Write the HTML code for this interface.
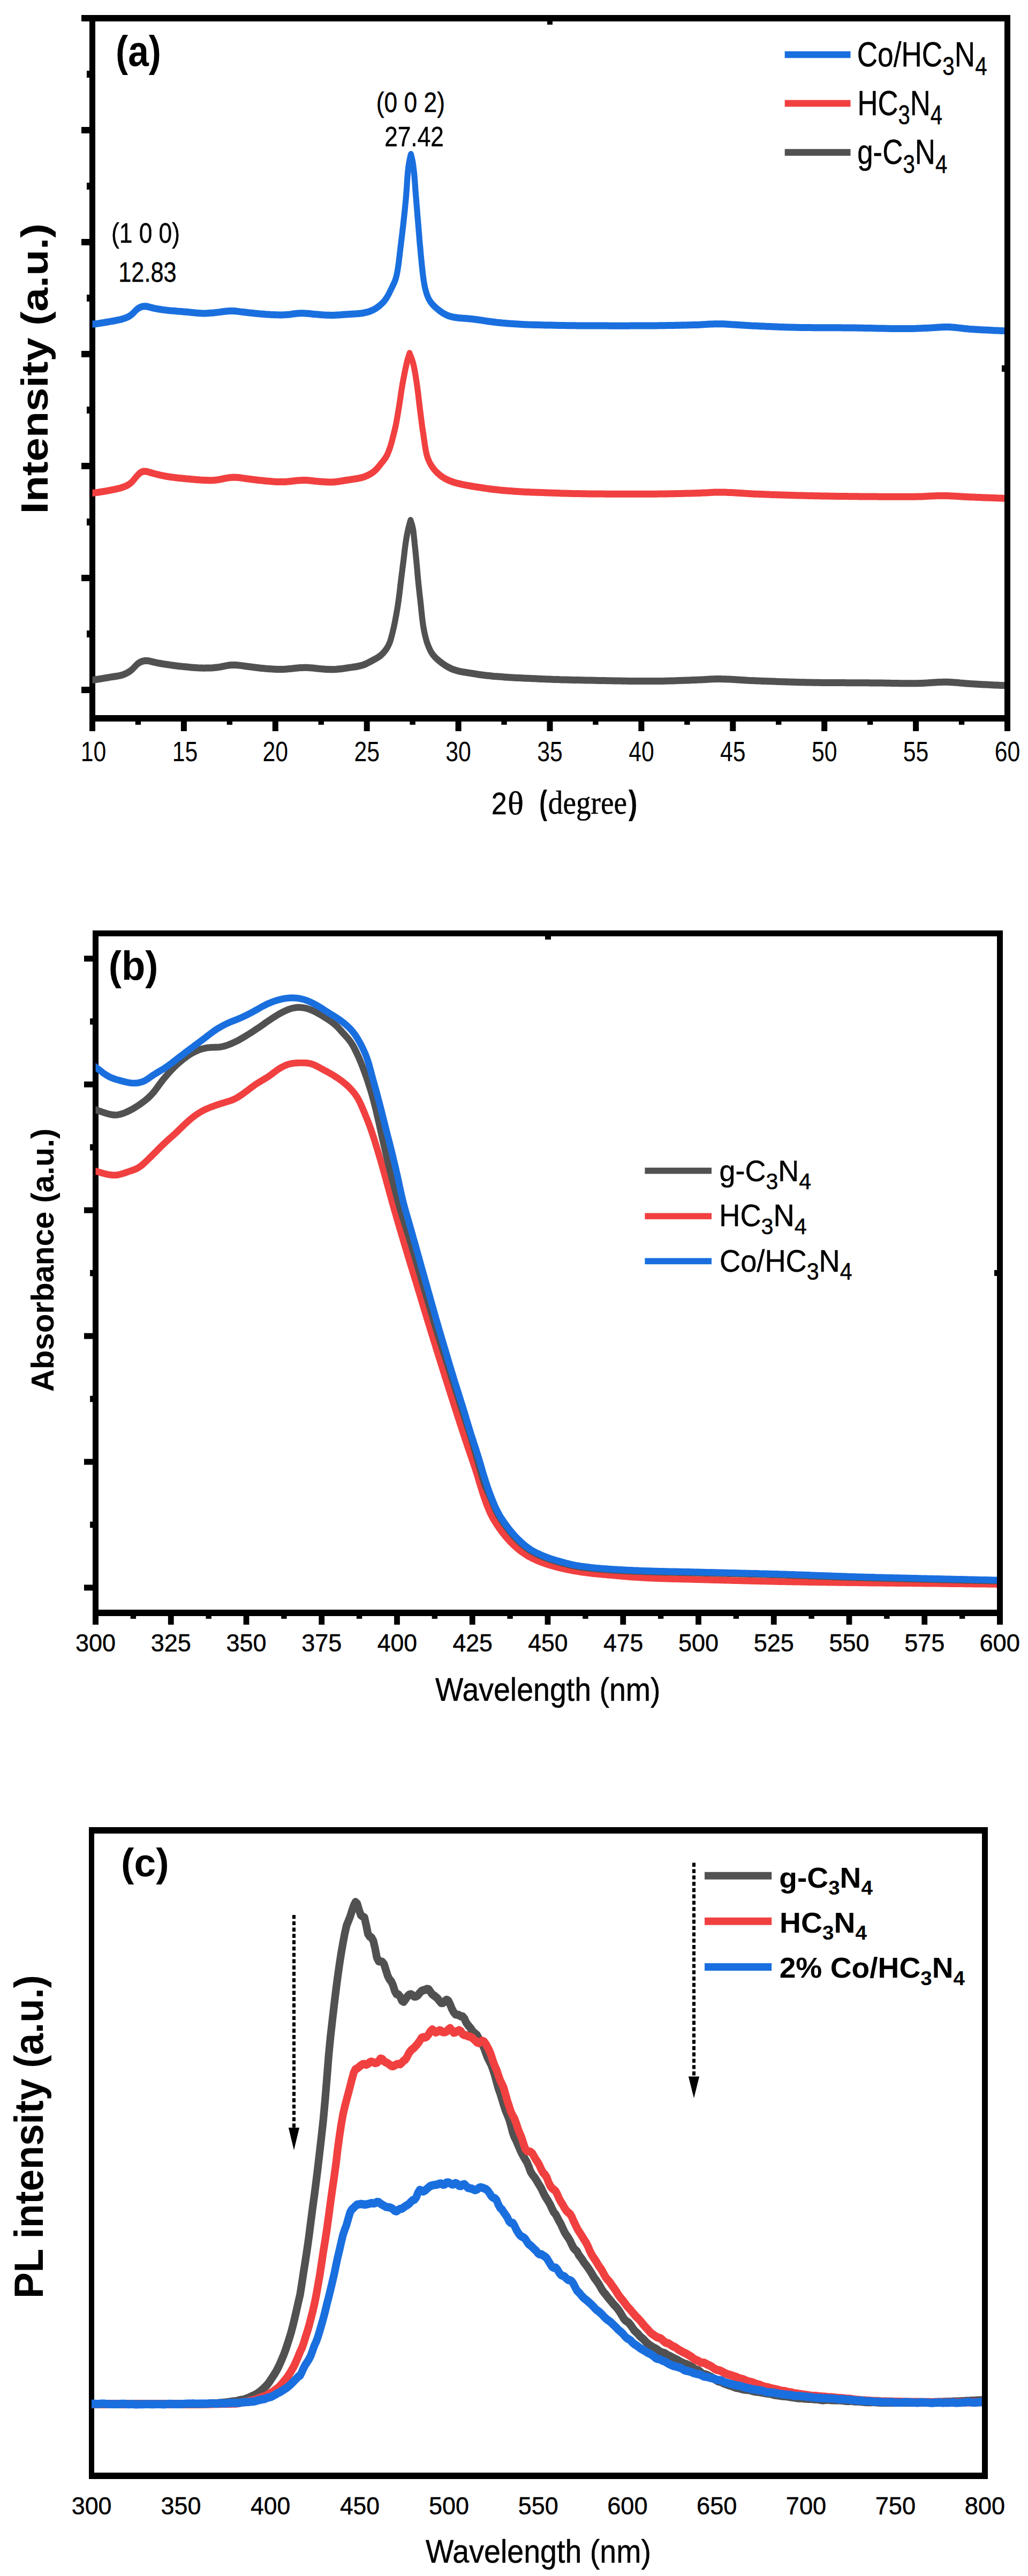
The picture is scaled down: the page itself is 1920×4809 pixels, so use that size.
<!DOCTYPE html>
<html lang="en"><head><meta charset="utf-8"><title>Figure</title>
<style>html,body{margin:0;padding:0;background:#fff}svg{display:block}text{white-space:pre}</style></head>
<body><svg width="1920" height="4809" viewBox="0 0 1920 4809">
<rect width="1920" height="4809" fill="#fff"/>
<g id="panel-a">
<clipPath id="clipA"><rect x="172.5" y="34" width="1703.5" height="1307"/></clipPath>
<rect x="152" y="28" width="1735" height="12" fill="#000"/>
<rect x="167" y="28" width="11" height="1337" fill="#000"/>
<rect x="1876" y="28" width="11" height="1337" fill="#000"/>
<rect x="167" y="1335" width="1720" height="12" fill="#000"/>
<rect x="152" y="237" width="18" height="12" fill="#000"/>
<rect x="162" y="132" width="8" height="13" fill="#000"/>
<rect x="152" y="446" width="18" height="12" fill="#000"/>
<rect x="162" y="341" width="8" height="13" fill="#000"/>
<rect x="152" y="655" width="18" height="12" fill="#000"/>
<rect x="162" y="550" width="8" height="13" fill="#000"/>
<rect x="152" y="864" width="18" height="12" fill="#000"/>
<rect x="162" y="759" width="8" height="13" fill="#000"/>
<rect x="152" y="1073" width="18" height="12" fill="#000"/>
<rect x="162" y="968" width="8" height="13" fill="#000"/>
<rect x="152" y="1282" width="18" height="12" fill="#000"/>
<rect x="162" y="1177" width="8" height="13" fill="#000"/>
<rect x="167" y="1340" width="11" height="25" fill="#000"/>
<rect x="337.9" y="1340" width="11" height="25" fill="#000"/>
<rect x="508.8" y="1340" width="11" height="25" fill="#000"/>
<rect x="679.7" y="1340" width="11" height="25" fill="#000"/>
<rect x="850.6" y="1340" width="11" height="25" fill="#000"/>
<rect x="1021.5" y="1340" width="11" height="25" fill="#000"/>
<rect x="1192.4" y="1340" width="11" height="25" fill="#000"/>
<rect x="1363.3" y="1340" width="11" height="25" fill="#000"/>
<rect x="1534.2" y="1340" width="11" height="25" fill="#000"/>
<rect x="1705.1" y="1340" width="11" height="25" fill="#000"/>
<rect x="1876" y="1340" width="11" height="25" fill="#000"/>
<rect x="252.75" y="1340" width="10.4" height="13" fill="#000"/>
<rect x="423.65" y="1340" width="10.4" height="13" fill="#000"/>
<rect x="594.55" y="1340" width="10.4" height="13" fill="#000"/>
<rect x="765.45" y="1340" width="10.4" height="13" fill="#000"/>
<rect x="936.35" y="1340" width="10.4" height="13" fill="#000"/>
<rect x="1107.25" y="1340" width="10.4" height="13" fill="#000"/>
<rect x="1278.15" y="1340" width="10.4" height="13" fill="#000"/>
<rect x="1449.05" y="1340" width="10.4" height="13" fill="#000"/>
<rect x="1619.95" y="1340" width="10.4" height="13" fill="#000"/>
<rect x="1790.85" y="1340" width="10.4" height="13" fill="#000"/>
<rect x="1022" y="39" width="10" height="7" fill="#000"/>
<rect x="1871" y="682" width="6" height="12" fill="#000"/>
<g clip-path="url(#clipA)"><g transform="scale(0.86,1)">
<path d="M186.0,1271.0 L190.7,1270.5 L195.3,1270.1 L199.9,1269.6 L204.5,1269.1 L209.1,1268.5 L213.7,1267.9 L218.3,1267.3 L222.9,1266.6 L227.5,1265.9 L232.1,1265.2 L236.6,1264.6 L241.2,1263.9 L245.8,1263.3 L250.4,1262.7 L255.0,1262.1 L259.6,1261.4 L264.1,1260.4 L268.5,1259.2 L272.8,1257.6 L277.0,1255.8 L280.9,1253.7 L284.7,1251.4 L288.2,1248.7 L291.4,1245.8 L294.5,1242.9 L297.8,1240.1 L301.5,1237.6 L305.6,1235.7 L309.9,1234.3 L314.5,1233.5 L319.1,1233.4 L323.7,1233.9 L328.3,1234.8 L332.8,1235.8 L337.3,1236.7 L341.8,1237.6 L346.4,1238.3 L351.0,1239.0 L355.6,1239.6 L360.2,1240.2 L364.8,1240.8 L369.4,1241.4 L374.0,1242.0 L378.6,1242.5 L383.2,1243.0 L387.8,1243.5 L392.5,1243.9 L397.1,1244.4 L401.7,1244.8 L406.3,1245.1 L411.0,1245.5 L415.6,1245.9 L420.2,1246.2 L424.9,1246.5 L429.5,1246.8 L434.2,1247.0 L438.8,1247.1 L443.5,1247.2 L448.1,1247.1 L452.8,1247.0 L457.4,1246.9 L462.1,1246.7 L466.7,1246.3 L471.3,1245.9 L475.9,1245.4 L480.5,1244.7 L485.1,1243.9 L489.6,1243.1 L494.2,1242.4 L498.8,1241.8 L503.4,1241.4 L508.1,1241.4 L512.7,1241.6 L517.4,1241.9 L522.0,1242.4 L526.6,1242.9 L531.2,1243.5 L535.8,1244.0 L540.4,1244.5 L545.0,1245.0 L549.6,1245.5 L554.3,1246.0 L558.9,1246.5 L563.5,1247.0 L568.1,1247.4 L572.7,1247.8 L577.4,1248.2 L582.0,1248.5 L586.6,1248.8 L591.3,1249.1 L595.9,1249.3 L600.6,1249.5 L605.2,1249.6 L609.9,1249.6 L614.5,1249.5 L619.2,1249.3 L623.8,1249.0 L628.4,1248.6 L633.1,1248.2 L637.7,1247.7 L642.3,1247.3 L646.9,1246.9 L651.6,1246.6 L656.2,1246.4 L660.9,1246.3 L665.5,1246.3 L670.2,1246.4 L674.8,1246.7 L679.4,1247.1 L684.1,1247.5 L688.7,1247.9 L693.3,1248.4 L697.9,1248.8 L702.6,1249.1 L707.2,1249.4 L711.9,1249.6 L716.5,1249.7 L721.2,1249.8 L725.8,1249.7 L730.5,1249.5 L735.1,1249.1 L739.7,1248.7 L744.3,1248.2 L748.9,1247.6 L753.5,1247.0 L758.1,1246.4 L762.7,1245.9 L767.3,1245.3 L771.9,1244.7 L776.5,1244.0 L781.1,1243.2 L785.6,1242.2 L790.0,1241.0 L794.3,1239.5 L798.5,1237.7 L802.6,1235.8 L806.7,1234.0 L810.8,1232.1 L814.9,1230.2 L818.9,1228.2 L822.9,1226.1 L826.6,1223.7 L830.0,1221.0 L833.2,1218.1 L836.2,1215.0 L838.9,1211.8 L841.4,1208.4 L843.6,1204.9 L845.6,1201.2 L847.2,1197.5 L848.6,1193.7 L849.8,1189.8 L851.0,1186.0 L852.2,1182.1 L853.3,1178.2 L854.3,1174.3 L855.4,1170.4 L856.3,1166.5 L857.3,1162.6 L858.2,1158.7 L859.0,1154.7 L859.9,1150.8 L860.7,1146.9 L861.5,1142.9 L862.3,1139.0 L863.1,1135.0 L863.8,1131.1 L864.5,1127.1 L865.2,1123.2 L865.8,1119.2 L866.4,1115.2 L867.0,1111.3 L867.6,1107.3 L868.1,1103.3 L868.7,1099.4 L869.2,1095.4 L869.7,1091.4 L870.3,1087.4 L870.9,1083.5 L871.4,1079.5 L872.0,1075.5 L872.6,1071.6 L873.2,1067.6 L873.8,1063.6 L874.3,1059.7 L874.9,1055.7 L875.5,1051.7 L876.1,1047.7 L876.7,1043.8 L877.2,1039.8 L877.8,1035.8 L878.3,1031.9 L878.8,1027.9 L879.4,1023.9 L880.0,1020.0 L880.6,1016.0 L881.3,1012.0 L882.0,1008.1 L882.7,1004.1 L883.6,1000.2 L884.4,996.3 L885.4,992.3 L886.3,988.4 L887.4,984.5 L888.6,980.7 L889.8,976.8 L891.1,973.0 L891.6,971.5 L893.1,975.3 L894.5,979.1 L895.7,983.0 L896.7,986.9 L897.5,990.8 L898.1,994.8 L898.6,998.8 L899.1,1002.7 L899.6,1006.7 L900.1,1010.7 L900.5,1014.7 L901.0,1018.7 L901.5,1022.6 L902.0,1026.6 L902.4,1030.6 L902.9,1034.6 L903.3,1038.6 L903.8,1042.5 L904.2,1046.5 L904.6,1050.5 L905.1,1054.5 L905.5,1058.5 L905.9,1062.5 L906.3,1066.4 L906.7,1070.4 L907.1,1074.4 L907.5,1078.4 L908.0,1082.4 L908.4,1086.4 L908.9,1090.3 L909.4,1094.3 L909.9,1098.3 L910.4,1102.3 L910.9,1106.2 L911.4,1110.2 L911.9,1114.2 L912.5,1118.2 L913.0,1122.1 L913.5,1126.1 L914.0,1130.1 L914.5,1134.1 L914.9,1138.0 L915.4,1142.0 L915.9,1146.0 L916.4,1150.0 L916.9,1154.0 L917.5,1157.9 L918.1,1161.9 L918.7,1165.9 L919.4,1169.8 L920.2,1173.8 L921.1,1177.7 L922.0,1181.6 L923.0,1185.5 L924.1,1189.4 L925.3,1193.3 L926.5,1197.1 L928.0,1200.9 L929.6,1204.7 L931.3,1208.4 L933.2,1212.0 L935.3,1215.6 L937.7,1219.1 L940.3,1222.3 L943.3,1225.4 L946.5,1228.3 L949.9,1231.0 L953.4,1233.6 L957.1,1236.1 L960.8,1238.5 L964.6,1240.8 L968.5,1243.0 L972.5,1245.0 L976.6,1246.9 L980.8,1248.6 L985.2,1250.1 L989.6,1251.3 L994.1,1252.4 L998.6,1253.3 L1003.2,1254.1 L1007.7,1254.8 L1012.3,1255.4 L1016.9,1256.0 L1021.5,1256.6 L1026.1,1257.2 L1030.7,1257.9 L1035.3,1258.5 L1039.9,1259.2 L1044.5,1259.8 L1049.1,1260.3 L1053.7,1260.8 L1058.3,1261.2 L1063.0,1261.6 L1067.6,1262.0 L1072.2,1262.4 L1076.9,1262.7 L1081.5,1263.0 L1086.1,1263.3 L1090.8,1263.6 L1095.4,1263.9 L1100.1,1264.2 L1104.7,1264.5 L1109.3,1264.7 L1114.0,1265.0 L1118.6,1265.2 L1123.3,1265.4 L1127.9,1265.6 L1132.6,1265.8 L1137.2,1266.0 L1141.9,1266.2 L1146.5,1266.3 L1151.2,1266.5 L1155.8,1266.7 L1160.4,1266.8 L1165.1,1267.0 L1169.7,1267.2 L1174.4,1267.4 L1179.0,1267.6 L1183.7,1267.7 L1188.3,1267.9 L1193.0,1268.0 L1197.6,1268.2 L1202.3,1268.4 L1206.9,1268.5 L1211.6,1268.6 L1216.2,1268.8 L1220.9,1268.9 L1225.5,1269.0 L1230.2,1269.1 L1234.8,1269.2 L1239.5,1269.3 L1244.1,1269.4 L1248.8,1269.5 L1253.4,1269.6 L1258.1,1269.6 L1262.7,1269.7 L1267.4,1269.8 L1272.0,1269.9 L1276.7,1270.0 L1281.3,1270.1 L1286.0,1270.1 L1290.6,1270.2 L1295.3,1270.3 L1299.9,1270.4 L1304.6,1270.5 L1309.2,1270.5 L1313.9,1270.6 L1318.5,1270.7 L1323.2,1270.8 L1327.8,1270.8 L1332.5,1270.9 L1337.1,1271.0 L1341.8,1271.1 L1346.4,1271.1 L1351.1,1271.2 L1355.7,1271.2 L1360.4,1271.3 L1365.0,1271.4 L1369.7,1271.4 L1374.3,1271.5 L1379.0,1271.5 L1383.6,1271.5 L1388.3,1271.6 L1392.9,1271.6 L1397.6,1271.6 L1402.2,1271.6 L1406.9,1271.6 L1411.5,1271.6 L1416.2,1271.6 L1420.8,1271.6 L1425.5,1271.6 L1430.1,1271.5 L1434.8,1271.5 L1439.4,1271.4 L1444.1,1271.3 L1448.7,1271.2 L1453.4,1271.1 L1458.0,1271.0 L1462.7,1270.9 L1467.3,1270.7 L1472.0,1270.6 L1476.6,1270.5 L1481.3,1270.3 L1485.9,1270.2 L1490.6,1270.0 L1495.2,1269.9 L1499.9,1269.7 L1504.5,1269.5 L1509.2,1269.4 L1513.8,1269.2 L1518.5,1269.1 L1523.1,1268.9 L1527.7,1268.7 L1532.4,1268.4 L1537.0,1268.2 L1541.7,1268.0 L1546.3,1267.8 L1551.0,1267.7 L1555.6,1267.6 L1560.3,1267.5 L1564.9,1267.6 L1569.6,1267.7 L1574.2,1267.8 L1578.9,1267.9 L1583.5,1268.1 L1588.2,1268.3 L1592.8,1268.5 L1597.5,1268.8 L1602.1,1269.0 L1606.7,1269.2 L1611.4,1269.5 L1616.0,1269.7 L1620.7,1269.9 L1625.3,1270.2 L1630.0,1270.4 L1634.6,1270.6 L1639.2,1270.7 L1643.9,1270.9 L1648.5,1271.1 L1653.2,1271.2 L1657.8,1271.4 L1662.5,1271.5 L1667.1,1271.7 L1671.8,1271.8 L1676.4,1272.0 L1681.1,1272.1 L1685.7,1272.3 L1690.4,1272.4 L1695.0,1272.6 L1699.7,1272.7 L1704.3,1272.8 L1709.0,1273.0 L1713.6,1273.1 L1718.3,1273.2 L1722.9,1273.3 L1727.6,1273.4 L1732.2,1273.5 L1736.9,1273.7 L1741.5,1273.7 L1746.2,1273.8 L1750.8,1273.9 L1755.5,1274.0 L1760.1,1274.1 L1764.8,1274.2 L1769.4,1274.2 L1774.1,1274.3 L1778.7,1274.3 L1783.4,1274.4 L1788.0,1274.4 L1792.7,1274.4 L1797.3,1274.5 L1802.0,1274.5 L1806.6,1274.5 L1811.3,1274.6 L1815.9,1274.6 L1820.6,1274.6 L1825.2,1274.6 L1829.9,1274.6 L1834.5,1274.6 L1839.2,1274.7 L1843.8,1274.7 L1848.5,1274.7 L1853.1,1274.7 L1857.8,1274.7 L1862.4,1274.7 L1867.1,1274.7 L1871.7,1274.8 L1876.4,1274.8 L1881.0,1274.8 L1885.7,1274.8 L1890.3,1274.9 L1895.0,1274.9 L1899.6,1274.9 L1904.3,1275.0 L1908.9,1275.0 L1913.6,1275.1 L1918.2,1275.1 L1922.9,1275.2 L1927.5,1275.3 L1932.2,1275.3 L1936.8,1275.4 L1941.5,1275.5 L1946.1,1275.5 L1950.8,1275.6 L1955.5,1275.7 L1960.1,1275.7 L1964.8,1275.8 L1969.4,1275.8 L1974.1,1275.8 L1978.7,1275.8 L1983.4,1275.8 L1988.0,1275.7 L1992.7,1275.7 L1997.3,1275.6 L2002.0,1275.4 L2006.6,1275.2 L2011.2,1275.0 L2015.9,1274.8 L2020.5,1274.5 L2025.2,1274.2 L2029.8,1274.0 L2034.5,1273.7 L2039.1,1273.5 L2043.7,1273.4 L2048.4,1273.3 L2053.0,1273.3 L2057.7,1273.3 L2062.3,1273.5 L2067.0,1273.7 L2071.6,1273.9 L2076.3,1274.2 L2080.9,1274.6 L2085.5,1275.0 L2090.2,1275.3 L2094.8,1275.7 L2099.4,1276.0 L2104.1,1276.3 L2108.7,1276.6 L2113.4,1276.8 L2118.0,1277.1 L2122.6,1277.3 L2127.3,1277.5 L2131.9,1277.7 L2136.6,1277.9 L2141.2,1278.1 L2145.9,1278.3 L2150.5,1278.5 L2155.2,1278.7 L2159.8,1278.9 L2164.4,1279.1 L2169.1,1279.3 L2173.7,1279.5 L2178.4,1279.6 L2183.0,1279.8 L2187.7,1280.0 L2192.3,1280.1 L2197.0,1280.3 L2197.7,1280.3" fill="none" stroke="#515151" stroke-width="13" stroke-linejoin="round" stroke-linecap="butt"/>
<path d="M186.0,922.0 L190.7,921.6 L195.3,921.1 L199.9,920.6 L204.5,920.1 L209.1,919.6 L213.7,919.0 L218.3,918.4 L222.9,917.8 L227.5,917.1 L232.1,916.4 L236.7,915.7 L241.2,914.9 L245.8,914.1 L250.3,913.3 L254.9,912.4 L259.4,911.5 L263.9,910.4 L268.3,909.1 L272.6,907.6 L276.8,905.9 L280.8,903.8 L284.4,901.4 L287.8,898.6 L290.8,895.5 L293.7,892.4 L296.6,889.3 L299.7,886.3 L303.1,883.6 L306.9,881.3 L311.3,880.0 L315.9,879.9 L320.5,880.6 L324.9,881.7 L329.4,882.9 L333.9,884.0 L338.4,885.0 L342.9,885.9 L347.4,886.8 L352.0,887.6 L356.5,888.5 L361.1,889.2 L365.7,889.9 L370.3,890.5 L374.9,891.1 L379.5,891.5 L384.1,892.0 L388.7,892.4 L393.4,892.8 L398.0,893.2 L402.6,893.6 L407.3,893.9 L411.9,894.3 L416.5,894.7 L421.1,895.1 L425.8,895.5 L430.4,895.8 L435.0,896.1 L439.7,896.3 L444.3,896.5 L449.0,896.6 L453.6,896.7 L458.3,896.7 L462.9,896.6 L467.6,896.3 L472.2,895.8 L476.8,895.1 L481.3,894.3 L485.9,893.5 L490.4,892.7 L495.0,892.1 L499.6,891.5 L504.3,891.2 L508.9,891.0 L513.6,891.2 L518.2,891.5 L522.8,892.0 L527.4,892.6 L532.0,893.2 L536.6,893.8 L541.2,894.3 L545.8,894.8 L550.5,895.3 L555.1,895.8 L559.7,896.3 L564.3,896.7 L568.9,897.1 L573.6,897.5 L578.2,897.9 L582.8,898.2 L587.5,898.6 L592.1,898.9 L596.7,899.2 L601.4,899.4 L606.0,899.6 L610.7,899.6 L615.3,899.6 L620.0,899.4 L624.6,899.1 L629.2,898.7 L633.9,898.2 L638.5,897.8 L643.1,897.3 L647.7,897.0 L652.4,896.7 L657.0,896.5 L661.7,896.5 L666.3,896.6 L671.0,896.9 L675.6,897.3 L680.2,897.7 L684.8,898.2 L689.5,898.6 L694.1,899.0 L698.7,899.3 L703.4,899.6 L708.0,899.8 L712.7,900.0 L717.3,900.0 L722.0,900.0 L726.6,899.7 L731.2,899.3 L735.8,898.8 L740.4,898.1 L745.0,897.5 L749.6,896.8 L754.2,896.2 L758.8,895.6 L763.4,895.0 L768.0,894.4 L772.6,893.8 L777.2,893.2 L781.7,892.4 L786.3,891.4 L790.7,890.2 L795.0,888.8 L799.3,887.1 L803.4,885.3 L807.4,883.2 L811.2,880.9 L814.7,878.3 L818.0,875.5 L821.1,872.5 L824.0,869.4 L826.9,866.2 L829.8,863.1 L832.7,860.0 L835.5,856.8 L838.1,853.5 L840.3,850.0 L842.3,846.3 L844.0,842.6 L845.6,838.9 L847.2,835.1 L848.6,831.3 L849.9,827.4 L851.1,823.6 L852.3,819.7 L853.4,815.8 L854.6,812.0 L855.7,808.1 L856.8,804.2 L857.9,800.3 L858.9,796.4 L859.9,792.5 L860.8,788.6 L861.6,784.6 L862.4,780.7 L863.2,776.8 L864.0,772.8 L864.8,768.9 L865.5,764.9 L866.3,761.0 L867.0,757.0 L867.7,753.1 L868.4,749.1 L869.1,745.2 L869.8,741.2 L870.5,737.2 L871.1,733.3 L871.8,729.3 L872.5,725.4 L873.3,721.4 L874.0,717.5 L874.9,713.5 L875.7,709.6 L876.6,705.7 L877.5,701.8 L878.4,697.8 L879.3,693.9 L880.2,690.0 L881.2,686.1 L882.2,682.2 L883.2,678.3 L884.4,674.4 L885.5,670.5 L886.9,666.7 L888.3,662.9 L889.5,659.7 L891.2,663.4 L892.9,667.2 L894.5,670.9 L896.0,674.7 L897.3,678.5 L898.4,682.4 L899.4,686.3 L900.3,690.3 L901.1,694.2 L901.9,698.1 L902.7,702.1 L903.4,706.0 L904.1,710.0 L904.8,713.9 L905.5,717.9 L906.1,721.9 L906.7,725.8 L907.3,729.8 L907.9,733.8 L908.5,737.7 L909.0,741.7 L909.5,745.7 L910.1,749.7 L910.6,753.6 L911.2,757.6 L911.7,761.6 L912.3,765.5 L912.9,769.5 L913.5,773.5 L914.0,777.4 L914.6,781.4 L915.2,785.4 L915.8,789.4 L916.4,793.3 L917.0,797.3 L917.7,801.2 L918.4,805.2 L919.1,809.2 L919.8,813.1 L920.4,817.1 L921.1,821.0 L921.8,825.0 L922.4,828.9 L923.2,832.9 L923.9,836.8 L924.7,840.8 L925.6,844.7 L926.6,848.6 L927.9,852.5 L929.4,856.2 L931.2,859.9 L933.2,863.6 L935.4,867.1 L937.8,870.5 L940.5,873.7 L943.4,876.9 L946.5,879.9 L949.8,882.7 L953.2,885.4 L956.8,887.9 L960.6,890.3 L964.5,892.4 L968.6,894.3 L972.8,896.1 L977.0,897.6 L981.4,899.1 L985.8,900.4 L990.2,901.5 L994.7,902.5 L999.3,903.4 L1003.8,904.3 L1008.4,905.1 L1012.9,905.9 L1017.5,906.6 L1022.1,907.3 L1026.7,908.0 L1031.3,908.6 L1035.9,909.2 L1040.4,909.8 L1045.0,910.4 L1049.6,911.0 L1054.3,911.6 L1058.9,912.1 L1063.5,912.7 L1068.1,913.2 L1072.7,913.7 L1077.3,914.1 L1081.9,914.6 L1086.6,915.0 L1091.2,915.4 L1095.8,915.7 L1100.5,916.0 L1105.1,916.4 L1109.7,916.6 L1114.4,916.9 L1119.0,917.2 L1123.7,917.5 L1128.3,917.7 L1133.0,917.9 L1137.6,918.2 L1142.2,918.4 L1146.9,918.6 L1151.5,918.7 L1156.2,918.9 L1160.8,919.0 L1165.5,919.2 L1170.1,919.3 L1174.8,919.5 L1179.4,919.6 L1184.1,919.7 L1188.7,919.9 L1193.4,920.0 L1198.0,920.2 L1202.7,920.3 L1207.3,920.5 L1212.0,920.6 L1216.6,920.7 L1221.3,920.9 L1225.9,921.0 L1230.6,921.1 L1235.2,921.2 L1239.9,921.3 L1244.5,921.4 L1249.2,921.5 L1253.8,921.6 L1258.5,921.6 L1263.1,921.7 L1267.8,921.8 L1272.4,921.8 L1277.1,921.9 L1281.7,921.9 L1286.4,921.9 L1291.0,922.0 L1295.7,922.0 L1300.3,922.1 L1305.0,922.1 L1309.6,922.1 L1314.3,922.2 L1318.9,922.2 L1323.6,922.2 L1328.2,922.2 L1332.9,922.2 L1337.5,922.3 L1342.2,922.3 L1346.8,922.3 L1351.5,922.3 L1356.1,922.3 L1360.8,922.3 L1365.4,922.3 L1370.1,922.3 L1374.7,922.3 L1379.4,922.3 L1384.0,922.3 L1388.7,922.3 L1393.3,922.3 L1398.0,922.3 L1402.6,922.3 L1407.3,922.3 L1411.9,922.3 L1416.6,922.2 L1421.2,922.2 L1425.9,922.2 L1430.5,922.1 L1435.2,922.1 L1439.8,922.0 L1444.5,922.0 L1449.1,921.9 L1453.8,921.8 L1458.4,921.8 L1463.1,921.7 L1467.7,921.6 L1472.4,921.5 L1477.0,921.4 L1481.7,921.3 L1486.3,921.2 L1491.0,921.1 L1495.6,921.0 L1500.3,920.9 L1504.9,920.8 L1509.6,920.7 L1514.2,920.6 L1518.9,920.4 L1523.5,920.3 L1528.2,920.1 L1532.8,919.9 L1537.5,919.7 L1542.1,919.5 L1546.8,919.3 L1551.4,919.1 L1556.1,919.0 L1560.7,919.0 L1565.4,918.9 L1570.0,919.0 L1574.7,919.1 L1579.3,919.2 L1584.0,919.4 L1588.6,919.6 L1593.2,919.8 L1597.9,920.1 L1602.5,920.3 L1607.2,920.6 L1611.8,920.8 L1616.5,921.1 L1621.1,921.3 L1625.7,921.5 L1630.4,921.8 L1635.0,922.0 L1639.7,922.2 L1644.3,922.3 L1649.0,922.5 L1653.6,922.6 L1658.3,922.8 L1662.9,923.0 L1667.6,923.1 L1672.2,923.3 L1676.9,923.4 L1681.5,923.5 L1686.2,923.7 L1690.8,923.8 L1695.5,924.0 L1700.1,924.1 L1704.8,924.2 L1709.4,924.3 L1714.1,924.5 L1718.7,924.6 L1723.3,924.7 L1728.0,924.8 L1732.6,924.9 L1737.3,925.0 L1741.9,925.1 L1746.6,925.2 L1751.2,925.3 L1755.9,925.4 L1760.5,925.5 L1765.2,925.6 L1769.8,925.7 L1774.5,925.8 L1779.1,925.8 L1783.8,925.9 L1788.4,926.0 L1793.1,926.1 L1797.7,926.1 L1802.4,926.2 L1807.0,926.2 L1811.7,926.3 L1816.4,926.4 L1821.0,926.4 L1825.7,926.5 L1830.3,926.5 L1835.0,926.6 L1839.6,926.6 L1844.3,926.7 L1848.9,926.7 L1853.6,926.8 L1858.2,926.8 L1862.9,926.8 L1867.5,926.9 L1872.2,926.9 L1876.8,927.0 L1881.5,927.0 L1886.1,927.0 L1890.8,927.1 L1895.4,927.1 L1900.1,927.1 L1904.7,927.1 L1909.4,927.2 L1914.0,927.2 L1918.7,927.2 L1923.3,927.2 L1928.0,927.3 L1932.6,927.3 L1937.3,927.3 L1941.9,927.3 L1946.6,927.3 L1951.2,927.3 L1955.9,927.3 L1960.5,927.3 L1965.2,927.3 L1969.8,927.3 L1974.5,927.3 L1979.1,927.2 L1983.8,927.2 L1988.4,927.2 L1993.1,927.1 L1997.7,927.0 L2002.4,926.9 L2007.0,926.7 L2011.7,926.5 L2016.3,926.3 L2021.0,926.1 L2025.6,926.0 L2030.3,925.8 L2034.9,925.6 L2039.6,925.5 L2044.2,925.5 L2048.9,925.4 L2053.5,925.5 L2058.2,925.6 L2062.8,925.7 L2067.5,925.9 L2072.1,926.1 L2076.7,926.4 L2081.4,926.6 L2086.0,926.9 L2090.7,927.1 L2095.3,927.4 L2100.0,927.6 L2104.6,927.8 L2109.2,928.0 L2113.9,928.1 L2118.5,928.3 L2123.2,928.5 L2127.8,928.6 L2132.5,928.8 L2137.1,928.9 L2141.8,929.1 L2146.4,929.2 L2151.1,929.3 L2155.7,929.5 L2160.4,929.6 L2165.0,929.8 L2169.7,929.9 L2174.3,930.0 L2179.0,930.2 L2183.6,930.3 L2188.3,930.5 L2192.9,930.6 L2197.6,930.8 L2197.7,930.8" fill="none" stroke="#F14040" stroke-width="13" stroke-linejoin="round" stroke-linecap="butt"/>
<path d="M186.0,606.0 L190.7,605.7 L195.3,605.5 L200.0,605.2 L204.6,604.8 L209.2,604.4 L213.8,603.9 L218.4,603.3 L223.0,602.6 L227.6,602.0 L232.2,601.3 L236.8,600.6 L241.3,599.9 L245.9,599.2 L250.5,598.5 L255.1,597.7 L259.6,596.9 L264.2,596.0 L268.6,594.8 L273.0,593.5 L277.3,591.9 L281.4,590.0 L285.1,587.7 L288.6,585.0 L291.9,582.2 L295.1,579.3 L298.6,576.7 L302.5,574.5 L306.7,572.8 L311.2,571.9 L315.9,571.7 L320.5,572.3 L325.0,573.3 L329.4,574.3 L334.0,575.3 L338.5,576.1 L343.1,576.9 L347.7,577.5 L352.3,578.1 L356.9,578.6 L361.5,579.1 L366.1,579.6 L370.7,580.0 L375.4,580.3 L380.0,580.6 L384.6,581.0 L389.3,581.3 L393.9,581.6 L398.6,581.9 L403.2,582.2 L407.8,582.6 L412.5,583.0 L417.1,583.4 L421.7,583.8 L426.3,584.2 L431.0,584.5 L435.6,584.7 L440.3,584.9 L444.9,584.9 L449.6,584.8 L454.2,584.6 L458.8,584.3 L463.5,584.0 L468.1,583.6 L472.7,583.1 L477.3,582.6 L481.9,582.0 L486.6,581.5 L491.2,581.0 L495.8,580.7 L500.5,580.5 L505.1,580.5 L509.7,580.7 L514.4,581.1 L519.0,581.6 L523.6,582.1 L528.2,582.5 L532.9,583.0 L537.5,583.5 L542.1,583.9 L546.7,584.3 L551.3,584.8 L556.0,585.2 L560.6,585.6 L565.2,586.0 L569.9,586.3 L574.5,586.6 L579.1,586.9 L583.8,587.1 L588.4,587.4 L593.1,587.6 L597.7,587.7 L602.4,587.8 L607.0,587.9 L611.7,587.9 L616.3,587.8 L621.0,587.6 L625.6,587.3 L630.2,586.9 L634.8,586.3 L639.4,585.7 L644.0,585.2 L648.7,584.9 L653.3,584.7 L658.0,584.7 L662.6,584.9 L667.2,585.2 L671.9,585.6 L676.5,586.0 L681.1,586.4 L685.8,586.8 L690.4,587.1 L695.0,587.4 L699.7,587.7 L704.3,588.0 L709.0,588.2 L713.6,588.3 L718.3,588.4 L722.9,588.4 L727.6,588.3 L732.2,588.1 L736.9,587.9 L741.5,587.6 L746.1,587.3 L750.8,587.0 L755.4,586.7 L760.0,586.4 L764.7,586.2 L769.3,586.0 L774.0,585.8 L778.6,585.5 L783.2,585.1 L787.8,584.5 L792.4,583.7 L796.9,582.8 L801.4,581.7 L805.8,580.3 L810.0,578.7 L814.1,576.8 L818.0,574.7 L821.8,572.3 L825.4,569.8 L828.9,567.1 L832.2,564.3 L835.2,561.3 L838.0,558.1 L840.5,554.7 L842.8,551.2 L845.0,547.7 L847.0,544.1 L849.1,540.5 L851.1,536.9 L853.1,533.3 L855.1,529.7 L857.0,526.0 L858.6,522.3 L860.0,518.5 L861.1,514.6 L862.1,510.7 L863.0,506.8 L863.8,502.8 L864.5,498.9 L865.2,494.9 L865.8,490.9 L866.4,487.0 L866.9,483.0 L867.5,479.0 L868.0,475.1 L868.5,471.1 L869.1,467.1 L869.6,463.1 L870.2,459.2 L870.8,455.2 L871.3,451.2 L871.9,447.3 L872.5,443.3 L873.0,439.3 L873.6,435.3 L874.1,431.4 L874.6,427.4 L875.2,423.4 L875.7,419.4 L876.2,415.5 L876.7,411.5 L877.2,407.5 L877.7,403.5 L878.2,399.6 L878.7,395.6 L879.2,391.6 L879.6,387.6 L880.1,383.6 L880.5,379.7 L881.0,375.7 L881.4,371.7 L881.8,367.7 L882.2,363.7 L882.5,359.7 L882.9,355.7 L883.2,351.8 L883.5,347.8 L883.8,343.8 L884.1,339.8 L884.4,335.8 L884.7,331.8 L885.1,327.8 L885.5,323.8 L885.9,319.8 L886.5,315.9 L887.0,311.9 L887.7,307.9 L888.4,304.0 L889.2,300.0 L890.2,296.1 L891.2,292.2 L892.4,288.4 L892.4,288.3 L893.6,292.2 L894.7,296.1 L895.7,300.0 L896.5,303.9 L897.2,307.9 L897.8,311.8 L898.4,315.8 L898.9,319.8 L899.4,323.7 L899.9,327.7 L900.3,331.7 L900.6,335.7 L901.0,339.7 L901.3,343.7 L901.7,347.7 L902.0,351.7 L902.3,355.6 L902.7,359.6 L903.0,363.6 L903.4,367.6 L903.8,371.6 L904.2,375.6 L904.5,379.6 L904.9,383.6 L905.3,387.5 L905.7,391.5 L906.1,395.5 L906.4,399.5 L906.8,403.5 L907.2,407.5 L907.6,411.5 L908.0,415.4 L908.4,419.4 L908.7,423.4 L909.1,427.4 L909.5,431.4 L909.9,435.4 L910.3,439.4 L910.7,443.4 L911.0,447.3 L911.4,451.3 L911.8,455.3 L912.2,459.3 L912.7,463.3 L913.1,467.3 L913.5,471.2 L913.9,475.2 L914.4,479.2 L914.8,483.2 L915.3,487.2 L915.7,491.2 L916.2,495.1 L916.7,499.1 L917.2,503.1 L917.7,507.1 L918.2,511.0 L918.8,515.0 L919.4,519.0 L920.0,522.9 L920.8,526.9 L921.5,530.8 L922.4,534.8 L923.4,538.7 L924.6,542.5 L925.9,546.4 L927.3,550.2 L929.0,553.9 L930.9,557.6 L933.1,561.1 L935.7,564.4 L938.6,567.5 L941.8,570.5 L945.1,573.3 L948.6,575.9 L952.2,578.5 L955.9,580.9 L959.7,583.2 L963.6,585.3 L967.7,587.2 L971.9,588.9 L976.3,590.2 L980.8,591.3 L985.3,592.1 L989.9,592.7 L994.5,593.3 L999.2,593.7 L1003.8,594.1 L1008.4,594.3 L1013.1,594.6 L1017.7,594.9 L1022.3,595.3 L1027.0,595.7 L1031.6,596.2 L1036.2,596.8 L1040.8,597.3 L1045.4,597.9 L1050.0,598.5 L1054.6,599.1 L1059.2,599.7 L1063.8,600.3 L1068.4,600.8 L1073.0,601.3 L1077.6,601.8 L1082.3,602.2 L1086.9,602.6 L1091.5,603.0 L1096.2,603.3 L1100.8,603.7 L1105.4,604.0 L1110.1,604.3 L1114.7,604.6 L1119.3,604.8 L1124.0,605.1 L1128.6,605.3 L1133.3,605.5 L1137.9,605.7 L1142.6,605.9 L1147.2,606.1 L1151.9,606.2 L1156.5,606.3 L1161.2,606.4 L1165.8,606.5 L1170.5,606.6 L1175.1,606.7 L1179.8,606.8 L1184.4,606.9 L1189.1,607.0 L1193.7,607.0 L1198.4,607.1 L1203.0,607.2 L1207.7,607.3 L1212.3,607.4 L1217.0,607.5 L1221.6,607.5 L1226.3,607.6 L1230.9,607.7 L1235.6,607.7 L1240.2,607.8 L1244.9,607.8 L1249.5,607.8 L1254.2,607.9 L1258.8,607.9 L1263.5,607.9 L1268.1,608.0 L1272.8,608.0 L1277.4,608.0 L1282.1,608.0 L1286.7,608.1 L1291.4,608.1 L1296.0,608.1 L1300.7,608.1 L1305.3,608.1 L1310.0,608.1 L1314.6,608.1 L1319.3,608.1 L1323.9,608.2 L1328.6,608.2 L1333.2,608.2 L1337.9,608.2 L1342.5,608.2 L1347.2,608.2 L1351.8,608.2 L1356.5,608.2 L1361.1,608.2 L1365.8,608.2 L1370.4,608.1 L1375.1,608.1 L1379.7,608.1 L1384.4,608.1 L1389.0,608.1 L1393.7,608.1 L1398.3,608.1 L1403.0,608.0 L1407.7,608.0 L1412.3,608.0 L1417.0,607.9 L1421.6,607.9 L1426.3,607.9 L1430.9,607.8 L1435.6,607.8 L1440.2,607.7 L1444.9,607.7 L1449.5,607.6 L1454.2,607.6 L1458.8,607.5 L1463.5,607.4 L1468.1,607.3 L1472.8,607.3 L1477.4,607.2 L1482.1,607.1 L1486.7,607.0 L1491.4,606.9 L1496.0,606.8 L1500.7,606.7 L1505.3,606.6 L1510.0,606.5 L1514.6,606.4 L1519.3,606.2 L1523.9,606.0 L1528.5,605.8 L1533.2,605.6 L1537.8,605.3 L1542.5,605.1 L1547.1,604.9 L1551.8,604.8 L1556.4,604.7 L1561.1,604.7 L1565.7,604.7 L1570.4,604.8 L1575.0,605.0 L1579.7,605.2 L1584.3,605.4 L1588.9,605.7 L1593.6,605.9 L1598.2,606.2 L1602.9,606.5 L1607.5,606.7 L1612.2,607.0 L1616.8,607.3 L1621.4,607.5 L1626.1,607.7 L1630.7,608.0 L1635.4,608.2 L1640.0,608.3 L1644.7,608.5 L1649.3,608.7 L1654.0,608.9 L1658.6,609.1 L1663.2,609.3 L1667.9,609.4 L1672.5,609.6 L1677.2,609.8 L1681.8,609.9 L1686.5,610.1 L1691.1,610.3 L1695.8,610.4 L1700.4,610.5 L1705.1,610.7 L1709.7,610.8 L1714.4,610.9 L1719.0,611.0 L1723.7,611.1 L1728.3,611.2 L1733.0,611.3 L1737.6,611.4 L1742.3,611.4 L1746.9,611.5 L1751.6,611.5 L1756.2,611.6 L1760.9,611.6 L1765.5,611.7 L1770.2,611.7 L1774.8,611.7 L1779.5,611.7 L1784.1,611.7 L1788.8,611.7 L1793.4,611.8 L1798.1,611.8 L1802.7,611.8 L1807.4,611.8 L1812.0,611.8 L1816.7,611.8 L1821.3,611.8 L1826.0,611.8 L1830.6,611.9 L1835.3,611.9 L1839.9,611.9 L1844.6,612.0 L1849.2,612.0 L1853.9,612.0 L1858.5,612.1 L1863.2,612.2 L1867.8,612.2 L1872.5,612.3 L1877.1,612.4 L1881.8,612.5 L1886.4,612.5 L1891.1,612.6 L1895.7,612.7 L1900.4,612.8 L1905.0,612.9 L1909.7,613.0 L1914.3,613.1 L1919.0,613.1 L1923.7,613.2 L1928.3,613.3 L1933.0,613.4 L1937.6,613.4 L1942.3,613.5 L1946.9,613.5 L1951.6,613.6 L1956.2,613.6 L1960.9,613.6 L1965.5,613.6 L1970.2,613.6 L1974.8,613.6 L1979.5,613.5 L1984.1,613.4 L1988.8,613.3 L1993.4,613.1 L1998.1,613.0 L2002.7,612.8 L2007.3,612.6 L2012.0,612.4 L2016.6,612.2 L2021.3,612.0 L2025.9,611.7 L2030.6,611.5 L2035.2,611.2 L2039.8,610.9 L2044.5,610.7 L2049.1,610.5 L2053.8,610.5 L2058.4,610.5 L2063.1,610.6 L2067.7,610.9 L2072.4,611.2 L2077.0,611.6 L2081.6,612.1 L2086.2,612.5 L2090.9,613.0 L2095.5,613.4 L2100.1,613.8 L2104.7,614.2 L2109.4,614.5 L2114.0,614.8 L2118.7,615.1 L2123.3,615.3 L2127.9,615.5 L2132.6,615.7 L2137.2,615.9 L2141.9,616.1 L2146.5,616.3 L2151.2,616.5 L2155.8,616.7 L2160.5,616.9 L2165.1,617.0 L2169.8,617.2 L2174.4,617.4 L2179.0,617.6 L2183.7,617.7 L2188.3,617.9 L2193.0,618.1 L2197.6,618.2 L2197.7,618.2" fill="none" stroke="#1A6FDF" stroke-width="13" stroke-linejoin="round" stroke-linecap="butt"/>
</g></g>
<text transform="translate(174.5,1420.8) scale(0.8300,1)" text-anchor="middle" font-family='"Liberation Sans", sans-serif' font-size="51.5">10</text>
<text transform="translate(345.4,1420.8) scale(0.8300,1)" text-anchor="middle" font-family='"Liberation Sans", sans-serif' font-size="51.5">15</text>
<text transform="translate(514.3,1420.8) scale(0.8300,1)" text-anchor="middle" font-family='"Liberation Sans", sans-serif' font-size="51.5">20</text>
<text transform="translate(685.2,1420.8) scale(0.8300,1)" text-anchor="middle" font-family='"Liberation Sans", sans-serif' font-size="51.5">25</text>
<text transform="translate(856.1,1420.8) scale(0.8300,1)" text-anchor="middle" font-family='"Liberation Sans", sans-serif' font-size="51.5">30</text>
<text transform="translate(1027,1420.8) scale(0.8300,1)" text-anchor="middle" font-family='"Liberation Sans", sans-serif' font-size="51.5">35</text>
<text transform="translate(1197.9,1420.8) scale(0.8300,1)" text-anchor="middle" font-family='"Liberation Sans", sans-serif' font-size="51.5">40</text>
<text transform="translate(1368.8,1420.8) scale(0.8300,1)" text-anchor="middle" font-family='"Liberation Sans", sans-serif' font-size="51.5">45</text>
<text transform="translate(1539.7,1420.8) scale(0.8300,1)" text-anchor="middle" font-family='"Liberation Sans", sans-serif' font-size="51.5">50</text>
<text transform="translate(1710.6,1420.8) scale(0.8300,1)" text-anchor="middle" font-family='"Liberation Sans", sans-serif' font-size="51.5">55</text>
<text transform="translate(1881.5,1420.8) scale(0.8300,1)" text-anchor="middle" font-family='"Liberation Sans", sans-serif' font-size="51.5">60</text>
<text transform="translate(216.04,123.39) scale(0.8671,1)" font-family='"Liberation Sans", sans-serif' font-size="80.03" font-weight="bold" fill="#000">(a)</text>
<text transform="translate(702.85,209.19) scale(0.8567,1)" font-family='"Liberation Sans", sans-serif' font-size="51.74" stroke="#000" stroke-width="0.5" fill="#000">(0 0 2)</text>
<text transform="translate(718.17,272.8) scale(0.8466,1)" font-family='"Liberation Sans", sans-serif' font-size="52.27" stroke="#000" stroke-width="0.5" fill="#000">27.42</text>
<text transform="translate(207.95,453.32) scale(0.8507,1)" font-family='"Liberation Sans", sans-serif' font-size="52.06" stroke="#000" stroke-width="0.5" fill="#000">(1 0 0)</text>
<text transform="translate(221.3,525.69) scale(0.8304,1)" font-family='"Liberation Sans", sans-serif' font-size="52.12" stroke="#000" stroke-width="0.5" fill="#000">12.83</text>
<text transform="translate(89.03,959.25) rotate(-90) scale(1.1474,1)" font-family='"Liberation Sans", sans-serif' font-size="69.73" font-weight="bold" fill="#000">Intensity (a.u.)</text>
<text transform="translate(917.68,1519.7) scale(0.8925,1)" font-family='"Liberation Sans", sans-serif' font-size="58.29" stroke="#000" stroke-width="0.5" fill="#000">2</text>
<text transform="translate(948.06,1519.9) scale(1.0206,1)" font-family='"Liberation Serif", serif' font-size="61.36" stroke="#000" stroke-width="0.5" fill="#000">θ</text>
<text transform="translate(1007.29,1519.8) scale(0.7069,1)" font-family='"Liberation Sans", sans-serif' font-size="62.65" font-weight="bold" fill="#000">(</text>
<text transform="translate(1023.81,1519.1) scale(0.9034,1)" font-family='"Liberation Serif", serif' font-size="61.11" stroke="#000" stroke-width="0.5" fill="#000">degree</text>
<text transform="translate(1173.75,1519.8) scale(0.7974,1)" font-family='"Liberation Sans", sans-serif' font-size="62.65" font-weight="bold" fill="#000">)</text>
<rect x="1465.7" y="95.7" width="122.8" height="12.6" fill="#1A6FDF"/>
<rect x="1465.7" y="186.7" width="122.8" height="12.6" fill="#F14040"/>
<rect x="1465.7" y="278.2" width="122.8" height="12.6" fill="#515151"/>
<text transform="translate(1600.7,123.7) scale(0.8261,1)" font-family='"Liberation Sans", sans-serif' font-size="64.39" stroke="#000" stroke-width="0.5" fill="#000"><tspan font-size="64.39" dy="0">Co/HC</tspan><tspan font-size="48.94" dy="16.74">3</tspan><tspan font-size="64.39" dy="-16.74">N</tspan><tspan font-size="48.94" dy="16.74">4</tspan></text>
<text transform="translate(1601.48,214.8) scale(0.8159,1)" font-family='"Liberation Sans", sans-serif' font-size="64.54" stroke="#000" stroke-width="0.5" fill="#000"><tspan font-size="64.54" dy="0">HC</tspan><tspan font-size="49.05" dy="16.78">3</tspan><tspan font-size="64.54" dy="-16.78">N</tspan><tspan font-size="49.05" dy="16.78">4</tspan></text>
<text transform="translate(1601.18,305.8) scale(0.8217,1)" font-family='"Liberation Sans", sans-serif' font-size="64.39" stroke="#000" stroke-width="0.5" fill="#000"><tspan font-size="64.39" dy="0">g-C</tspan><tspan font-size="48.94" dy="16.74">3</tspan><tspan font-size="64.39" dy="-16.74">N</tspan><tspan font-size="48.94" dy="16.74">4</tspan></text>
</g>
<g id="panel-b">
<clipPath id="clipB"><rect x="178.5" y="1742" width="1683.5" height="1269"/></clipPath>
<rect x="173" y="1737" width="1700" height="11" fill="#000"/>
<rect x="173" y="1737" width="11" height="1296" fill="#000"/>
<rect x="1862" y="1737" width="11" height="1296" fill="#000"/>
<rect x="173" y="3005" width="1700" height="12" fill="#000"/>
<rect x="157" y="1784.1" width="19" height="11" fill="#000"/>
<rect x="157" y="2018.96" width="19" height="11" fill="#000"/>
<rect x="157" y="2253.82" width="19" height="11" fill="#000"/>
<rect x="157" y="2488.68" width="19" height="11" fill="#000"/>
<rect x="157" y="2723.54" width="19" height="11" fill="#000"/>
<rect x="157" y="2958.4" width="19" height="11" fill="#000"/>
<rect x="168.1" y="1901.2" width="7.9" height="11.6" fill="#000"/>
<rect x="168.1" y="2136.06" width="7.9" height="11.6" fill="#000"/>
<rect x="168.1" y="2370.92" width="7.9" height="11.6" fill="#000"/>
<rect x="168.1" y="2605.78" width="7.9" height="11.6" fill="#000"/>
<rect x="168.1" y="2840.64" width="7.9" height="11.6" fill="#000"/>
<rect x="173.1" y="3010" width="10.8" height="23" fill="#000"/>
<rect x="313.85" y="3010" width="10.8" height="23" fill="#000"/>
<rect x="454.6" y="3010" width="10.8" height="23" fill="#000"/>
<rect x="595.35" y="3010" width="10.8" height="23" fill="#000"/>
<rect x="736.1" y="3010" width="10.8" height="23" fill="#000"/>
<rect x="876.85" y="3010" width="10.8" height="23" fill="#000"/>
<rect x="1017.6" y="3010" width="10.8" height="23" fill="#000"/>
<rect x="1158.35" y="3010" width="10.8" height="23" fill="#000"/>
<rect x="1299.1" y="3010" width="10.8" height="23" fill="#000"/>
<rect x="1439.85" y="3010" width="10.8" height="23" fill="#000"/>
<rect x="1580.6" y="3010" width="10.8" height="23" fill="#000"/>
<rect x="1721.35" y="3010" width="10.8" height="23" fill="#000"/>
<rect x="1862.1" y="3010" width="10.8" height="23" fill="#000"/>
<rect x="243.68" y="3010" width="10.4" height="12" fill="#000"/>
<rect x="384.43" y="3010" width="10.4" height="12" fill="#000"/>
<rect x="525.17" y="3010" width="10.4" height="12" fill="#000"/>
<rect x="665.92" y="3010" width="10.4" height="12" fill="#000"/>
<rect x="806.67" y="3010" width="10.4" height="12" fill="#000"/>
<rect x="947.42" y="3010" width="10.4" height="12" fill="#000"/>
<rect x="1088.17" y="3010" width="10.4" height="12" fill="#000"/>
<rect x="1228.92" y="3010" width="10.4" height="12" fill="#000"/>
<rect x="1369.67" y="3010" width="10.4" height="12" fill="#000"/>
<rect x="1510.42" y="3010" width="10.4" height="12" fill="#000"/>
<rect x="1651.17" y="3010" width="10.4" height="12" fill="#000"/>
<rect x="1791.92" y="3010" width="10.4" height="12" fill="#000"/>
<rect x="1018" y="1747" width="11" height="7" fill="#000"/>
<rect x="1857" y="2371" width="6" height="11" fill="#000"/>
<path d="M170.0,2183.5 L173.8,2184.7 L177.6,2185.9 L181.4,2187.1 L185.3,2188.3 L189.1,2189.4 L192.9,2190.5 L196.8,2191.5 L200.7,2192.4 L204.7,2193.1 L208.6,2193.6 L212.6,2193.8 L216.6,2193.7 L220.6,2193.2 L224.5,2192.3 L228.3,2191.2 L232.1,2190.0 L235.9,2188.7 L239.7,2187.4 L243.5,2186.1 L247.3,2184.8 L251.0,2183.5 L254.7,2181.9 L258.2,2180.0 L261.6,2177.8 L264.8,2175.4 L267.8,2172.8 L270.8,2170.1 L273.7,2167.4 L276.5,2164.6 L279.4,2161.8 L282.2,2159.0 L285.1,2156.1 L287.9,2153.3 L290.8,2150.5 L293.6,2147.6 L296.4,2144.8 L299.2,2142.0 L302.0,2139.1 L304.9,2136.4 L307.8,2133.6 L310.8,2130.9 L313.7,2128.2 L316.7,2125.6 L319.7,2122.9 L322.7,2120.3 L325.7,2117.6 L328.6,2114.9 L331.5,2112.1 L334.4,2109.3 L337.3,2106.5 L340.1,2103.7 L343.0,2100.9 L345.8,2098.2 L348.8,2095.5 L351.8,2092.8 L354.8,2090.2 L357.9,2087.7 L361.0,2085.2 L364.2,2082.7 L367.5,2080.4 L370.8,2078.2 L374.2,2076.1 L377.7,2074.1 L381.2,2072.2 L384.8,2070.6 L388.5,2069.0 L392.2,2067.5 L395.9,2066.0 L399.7,2064.6 L403.5,2063.3 L407.3,2062.1 L411.1,2060.8 L414.9,2059.6 L418.7,2058.5 L422.5,2057.3 L426.4,2056.1 L430.2,2054.9 L433.9,2053.5 L437.6,2051.9 L441.2,2050.1 L444.6,2048.1 L448.0,2045.9 L451.3,2043.7 L454.6,2041.4 L457.8,2039.0 L461.0,2036.6 L464.2,2034.2 L467.4,2031.8 L470.6,2029.4 L473.8,2027.0 L477.1,2024.7 L480.4,2022.5 L483.8,2020.4 L487.2,2018.3 L490.7,2016.3 L494.1,2014.3 L497.5,2012.2 L500.9,2010.0 L504.2,2007.7 L507.4,2005.3 L510.6,2002.9 L513.8,2000.5 L517.0,1998.2 L520.3,1995.9 L523.7,1993.8 L527.2,1991.8 L530.7,1990.0 L534.4,1988.4 L538.2,1987.0 L542.0,1986.0 L546.0,1985.3 L549.9,1984.8 L553.9,1984.4 L557.9,1984.3 L561.9,1984.2 L565.9,1984.2 L569.9,1984.3 L573.9,1984.6 L577.8,1985.2 L581.7,1986.2 L585.5,1987.5 L589.2,1989.1 L592.7,1990.9 L596.3,1992.8 L599.8,1994.7 L603.3,1996.6 L606.8,1998.5 L610.3,2000.4 L613.8,2002.4 L617.3,2004.3 L620.8,2006.3 L624.2,2008.4 L627.6,2010.6 L630.9,2012.8 L634.2,2015.1 L637.4,2017.4 L640.6,2019.8 L643.7,2022.3 L646.8,2024.9 L649.7,2027.6 L652.6,2030.4 L655.4,2033.3 L658.0,2036.3 L660.6,2039.3 L663.0,2042.5 L665.3,2045.8 L667.5,2049.2 L669.5,2052.6 L671.3,2056.2 L673.1,2059.8 L674.7,2063.4 L676.3,2067.1 L677.9,2070.8 L679.4,2074.4 L681.0,2078.1 L682.5,2081.8 L684.0,2085.5 L685.5,2089.2 L687.0,2092.9 L688.5,2096.7 L689.9,2100.4 L691.3,2104.2 L692.6,2107.9 L693.9,2111.7 L695.2,2115.5 L696.4,2119.3 L697.7,2123.1 L698.9,2126.9 L700.1,2130.7 L701.3,2134.6 L702.4,2138.4 L703.6,2142.2 L704.8,2146.0 L705.9,2149.9 L707.1,2153.7 L708.2,2157.5 L709.3,2161.4 L710.5,2165.2 L711.6,2169.1 L712.7,2172.9 L713.8,2176.7 L714.9,2180.6 L716.0,2184.4 L717.1,2188.3 L718.1,2192.1 L719.2,2196.0 L720.3,2199.9 L721.3,2203.7 L722.4,2207.6 L723.4,2211.4 L724.5,2215.3 L725.5,2219.2 L726.6,2223.0 L727.6,2226.9 L728.7,2230.7 L729.8,2234.6 L730.9,2238.4 L731.9,2242.3 L733.0,2246.1 L734.1,2250.0 L735.2,2253.8 L736.3,2257.7 L737.4,2261.5 L738.5,2265.4 L739.6,2269.2 L740.7,2273.1 L741.8,2276.9 L742.9,2280.7 L744.0,2284.6 L745.2,2288.4 L746.3,2292.3 L747.4,2296.1 L748.6,2299.9 L749.7,2303.8 L750.8,2307.6 L752.0,2311.4 L753.1,2315.3 L754.3,2319.1 L755.4,2322.9 L756.6,2326.8 L757.7,2330.6 L758.9,2334.4 L760.0,2338.3 L761.2,2342.1 L762.3,2345.9 L763.5,2349.7 L764.6,2353.6 L765.8,2357.4 L767.0,2361.2 L768.1,2365.1 L769.3,2368.9 L770.5,2372.7 L771.7,2376.5 L772.8,2380.3 L774.0,2384.2 L775.2,2388.0 L776.4,2391.8 L777.5,2395.6 L778.7,2399.5 L779.9,2403.3 L781.0,2407.1 L782.2,2410.9 L783.4,2414.8 L784.5,2418.6 L785.7,2422.4 L786.8,2426.3 L788.0,2430.1 L789.1,2433.9 L790.3,2437.7 L791.4,2441.6 L792.6,2445.4 L793.8,2449.2 L794.9,2453.1 L796.1,2456.9 L797.3,2460.7 L798.4,2464.5 L799.6,2468.4 L800.8,2472.2 L801.9,2476.0 L803.1,2479.8 L804.3,2483.7 L805.5,2487.5 L806.6,2491.3 L807.8,2495.1 L809.0,2499.0 L810.2,2502.8 L811.4,2506.6 L812.6,2510.4 L813.8,2514.2 L814.9,2518.0 L816.1,2521.9 L817.3,2525.7 L818.5,2529.5 L819.7,2533.3 L820.9,2537.1 L822.1,2540.9 L823.3,2544.8 L824.5,2548.6 L825.7,2552.4 L826.9,2556.2 L828.1,2560.0 L829.3,2563.8 L830.5,2567.7 L831.7,2571.5 L832.9,2575.3 L834.1,2579.1 L835.3,2582.9 L836.5,2586.7 L837.7,2590.5 L839.0,2594.4 L840.2,2598.2 L841.4,2602.0 L842.6,2605.8 L843.8,2609.6 L845.0,2613.4 L846.2,2617.2 L847.5,2621.0 L848.7,2624.8 L849.9,2628.7 L851.1,2632.5 L852.4,2636.3 L853.6,2640.1 L854.8,2643.9 L856.1,2647.7 L857.3,2651.5 L858.5,2655.3 L859.8,2659.1 L861.0,2662.9 L862.3,2666.7 L863.5,2670.5 L864.8,2674.3 L866.0,2678.1 L867.3,2681.9 L868.5,2685.7 L869.8,2689.5 L871.1,2693.3 L872.3,2697.1 L873.6,2700.9 L874.9,2704.7 L876.2,2708.4 L877.5,2712.2 L878.8,2716.0 L880.1,2719.8 L881.4,2723.6 L882.7,2727.3 L884.0,2731.1 L885.3,2734.9 L886.5,2738.7 L887.8,2742.5 L889.0,2746.3 L890.2,2750.1 L891.4,2754.0 L892.6,2757.8 L893.7,2761.6 L894.8,2765.5 L896.0,2769.3 L897.1,2773.1 L898.3,2777.0 L899.5,2780.8 L900.7,2784.6 L901.9,2788.4 L903.2,2792.2 L904.5,2796.0 L905.8,2799.7 L907.1,2803.5 L908.5,2807.3 L909.9,2811.0 L911.4,2814.7 L912.9,2818.4 L914.5,2822.1 L916.1,2825.7 L917.9,2829.3 L919.8,2832.8 L921.8,2836.3 L923.9,2839.8 L926.0,2843.1 L928.2,2846.5 L930.4,2849.8 L932.6,2853.1 L935.0,2856.4 L937.3,2859.6 L939.8,2862.8 L942.3,2865.9 L944.8,2869.0 L947.5,2872.0 L950.1,2875.0 L952.8,2877.9 L955.6,2880.8 L958.5,2883.6 L961.4,2886.3 L964.4,2889.0 L967.4,2891.6 L970.5,2894.1 L973.7,2896.5 L977.0,2898.8 L980.3,2901.1 L983.6,2903.3 L987.0,2905.4 L990.5,2907.3 L994.1,2909.2 L997.7,2910.9 L1001.3,2912.6 L1005.0,2914.1 L1008.7,2915.6 L1012.4,2917.1 L1016.2,2918.4 L1020.0,2919.7 L1023.8,2921.0 L1027.6,2922.2 L1031.4,2923.3 L1035.3,2924.4 L1039.1,2925.4 L1043.0,2926.4 L1046.9,2927.4 L1050.8,2928.3 L1054.7,2929.1 L1058.6,2930.0 L1062.5,2930.8 L1066.5,2931.5 L1070.4,2932.3 L1074.3,2933.0 L1078.3,2933.6 L1082.2,2934.3 L1086.2,2934.9 L1090.1,2935.5 L1094.1,2936.0 L1098.1,2936.5 L1102.0,2937.0 L1106.0,2937.5 L1110.0,2937.9 L1114.0,2938.3 L1118.0,2938.6 L1121.9,2939.0 L1125.9,2939.4 L1129.9,2939.7 L1133.9,2940.1 L1137.9,2940.4 L1141.9,2940.8 L1145.8,2941.2 L1149.8,2941.5 L1153.8,2941.9 L1157.8,2942.2 L1161.8,2942.6 L1165.8,2942.9 L1169.8,2943.3 L1173.7,2943.6 L1177.7,2943.9 L1181.7,2944.2 L1185.7,2944.5 L1189.7,2944.7 L1193.7,2945.0 L1197.7,2945.2 L1201.7,2945.5 L1205.7,2945.7 L1209.7,2945.9 L1213.7,2946.1 L1217.7,2946.2 L1221.7,2946.4 L1225.6,2946.6 L1229.6,2946.7 L1233.6,2946.9 L1237.6,2947.0 L1241.6,2947.1 L1245.6,2947.2 L1249.6,2947.4 L1253.6,2947.5 L1257.6,2947.6 L1261.6,2947.7 L1265.6,2947.8 L1269.6,2947.9 L1273.6,2948.0 L1277.6,2948.1 L1281.6,2948.2 L1285.6,2948.3 L1289.6,2948.4 L1293.6,2948.5 L1297.6,2948.6 L1301.6,2948.7 L1305.6,2948.8 L1309.6,2948.9 L1313.6,2949.0 L1317.6,2949.1 L1321.6,2949.2 L1325.6,2949.4 L1329.6,2949.5 L1333.6,2949.6 L1337.6,2949.7 L1341.6,2949.8 L1345.6,2949.9 L1349.6,2950.0 L1353.6,2950.1 L1357.6,2950.2 L1361.6,2950.3 L1365.6,2950.5 L1369.6,2950.6 L1373.6,2950.7 L1377.6,2950.8 L1381.6,2950.9 L1385.6,2951.0 L1389.6,2951.1 L1393.6,2951.2 L1397.6,2951.3 L1401.6,2951.4 L1405.6,2951.5 L1409.6,2951.6 L1413.6,2951.7 L1417.6,2951.8 L1421.6,2951.9 L1425.6,2952.0 L1429.6,2952.0 L1433.6,2952.1 L1437.6,2952.2 L1441.6,2952.3 L1445.6,2952.4 L1449.6,2952.5 L1453.6,2952.6 L1457.6,2952.6 L1461.6,2952.7 L1465.6,2952.8 L1469.6,2952.9 L1473.6,2953.0 L1477.6,2953.0 L1481.6,2953.1 L1485.6,2953.2 L1489.6,2953.2 L1493.6,2953.3 L1497.6,2953.4 L1501.6,2953.4 L1505.6,2953.5 L1509.6,2953.6 L1513.6,2953.6 L1517.6,2953.7 L1521.6,2953.8 L1525.6,2953.8 L1529.6,2953.9 L1533.6,2953.9 L1537.6,2954.0 L1541.6,2954.0 L1545.6,2954.1 L1549.6,2954.2 L1553.6,2954.2 L1557.6,2954.3 L1561.6,2954.3 L1565.6,2954.4 L1569.6,2954.4 L1573.6,2954.5 L1577.6,2954.5 L1581.6,2954.6 L1585.6,2954.6 L1589.6,2954.7 L1593.6,2954.7 L1597.6,2954.8 L1601.6,2954.8 L1605.6,2954.9 L1609.6,2954.9 L1613.6,2955.0 L1617.6,2955.0 L1621.6,2955.1 L1625.6,2955.1 L1629.6,2955.1 L1633.5,2955.2 L1637.5,2955.2 L1641.5,2955.3 L1645.5,2955.3 L1649.5,2955.3 L1653.5,2955.4 L1657.5,2955.4 L1661.5,2955.5 L1665.5,2955.5 L1669.5,2955.5 L1673.5,2955.6 L1677.5,2955.6 L1681.5,2955.6 L1685.5,2955.7 L1689.5,2955.7 L1693.5,2955.7 L1697.5,2955.8 L1701.5,2955.8 L1705.5,2955.9 L1709.5,2955.9 L1713.5,2955.9 L1717.5,2956.0 L1721.5,2956.0 L1725.5,2956.1 L1729.5,2956.1 L1733.5,2956.1 L1737.5,2956.2 L1741.5,2956.2 L1745.5,2956.3 L1749.5,2956.3 L1753.5,2956.3 L1757.5,2956.4 L1761.5,2956.4 L1765.5,2956.5 L1769.5,2956.5 L1773.5,2956.6 L1777.5,2956.6 L1781.5,2956.7 L1785.5,2956.7 L1789.5,2956.7 L1793.5,2956.8 L1797.5,2956.8 L1801.5,2956.9 L1805.5,2956.9 L1809.5,2957.0 L1813.5,2957.0 L1817.5,2957.1 L1821.5,2957.1 L1825.5,2957.1 L1829.5,2957.2 L1833.5,2957.2 L1837.5,2957.3 L1841.5,2957.3 L1845.5,2957.4 L1849.5,2957.4 L1853.5,2957.5 L1857.5,2957.5 L1861.5,2957.6 L1865.5,2957.6 L1869.5,2957.7 L1873.5,2957.8 L1875.0,2957.8" fill="none" stroke="#F14040" stroke-width="12.6" stroke-linejoin="round" stroke-linecap="butt" clip-path="url(#clipB)"/>
<path d="M170.0,2068.5 L173.8,2069.9 L177.5,2071.3 L181.3,2072.6 L185.0,2074.0 L188.8,2075.3 L192.6,2076.6 L196.4,2077.8 L200.2,2079.0 L204.1,2080.0 L208.0,2080.8 L212.0,2081.4 L216.0,2081.5 L220.0,2081.2 L223.9,2080.4 L227.7,2079.3 L231.5,2078.0 L235.2,2076.5 L238.8,2074.8 L242.4,2073.0 L246.0,2071.2 L249.4,2069.2 L252.9,2067.1 L256.2,2065.0 L259.6,2062.8 L262.9,2060.5 L266.1,2058.2 L269.3,2055.8 L272.4,2053.3 L275.5,2050.7 L278.5,2048.0 L281.3,2045.2 L284.0,2042.3 L286.7,2039.3 L289.2,2036.2 L291.6,2033.0 L294.0,2029.7 L296.3,2026.5 L298.7,2023.3 L301.1,2020.1 L303.5,2016.9 L306.0,2013.8 L308.6,2010.7 L311.2,2007.7 L313.8,2004.7 L316.4,2001.7 L319.1,1998.7 L321.9,1995.8 L324.7,1992.9 L327.5,1990.1 L330.4,1987.4 L333.4,1984.7 L336.4,1982.0 L339.5,1979.5 L342.6,1977.0 L345.8,1974.6 L349.0,1972.2 L352.3,1970.0 L355.7,1967.9 L359.2,1965.9 L362.7,1964.0 L366.3,1962.3 L370.0,1960.7 L373.7,1959.3 L377.6,1958.1 L381.4,1957.1 L385.4,1956.3 L389.3,1955.8 L393.3,1955.4 L397.3,1955.2 L401.3,1955.1 L405.3,1955.0 L409.3,1954.7 L413.3,1954.2 L417.2,1953.4 L421.0,1952.4 L424.8,1951.1 L428.6,1949.7 L432.3,1948.2 L435.9,1946.6 L439.6,1944.9 L443.1,1943.1 L446.7,1941.2 L450.1,1939.2 L453.6,1937.2 L457.0,1935.2 L460.4,1933.1 L463.8,1931.0 L467.2,1928.9 L470.6,1926.7 L474.0,1924.5 L477.3,1922.3 L480.6,1920.1 L483.9,1917.9 L487.2,1915.6 L490.5,1913.3 L493.8,1911.0 L497.0,1908.7 L500.3,1906.4 L503.6,1904.2 L507.0,1901.9 L510.3,1899.8 L513.7,1897.6 L517.1,1895.5 L520.5,1893.4 L524.0,1891.5 L527.5,1889.6 L531.1,1887.8 L534.8,1886.2 L538.5,1884.7 L542.2,1883.3 L546.1,1882.2 L550.0,1881.4 L553.9,1880.8 L557.9,1880.6 L561.9,1880.8 L565.9,1881.2 L569.8,1881.9 L573.7,1882.9 L577.5,1884.1 L581.3,1885.5 L585.0,1887.1 L588.6,1888.8 L592.1,1890.7 L595.6,1892.6 L599.1,1894.6 L602.5,1896.7 L605.9,1898.8 L609.3,1900.9 L612.6,1903.1 L615.9,1905.3 L619.2,1907.6 L622.4,1910.0 L625.5,1912.5 L628.5,1915.2 L631.3,1918.0 L634.0,1921.0 L636.7,1924.0 L639.3,1927.0 L642.0,1929.9 L644.7,1932.9 L647.4,1935.9 L650.0,1938.9 L652.5,1942.0 L654.9,1945.2 L657.1,1948.6 L659.2,1952.0 L661.1,1955.5 L662.9,1959.0 L664.7,1962.6 L666.4,1966.2 L668.1,1969.9 L669.8,1973.5 L671.4,1977.2 L672.9,1980.9 L674.5,1984.6 L675.9,1988.3 L677.4,1992.0 L678.8,1995.7 L680.2,1999.5 L681.6,2003.2 L682.9,2007.0 L684.3,2010.8 L685.6,2014.6 L686.8,2018.4 L688.1,2022.2 L689.3,2026.0 L690.5,2029.8 L691.7,2033.6 L692.9,2037.4 L694.0,2041.3 L695.1,2045.1 L696.2,2049.0 L697.2,2052.8 L698.2,2056.7 L699.2,2060.6 L700.2,2064.4 L701.2,2068.3 L702.2,2072.2 L703.1,2076.1 L704.0,2080.0 L704.9,2083.9 L705.8,2087.8 L706.7,2091.7 L707.6,2095.6 L708.4,2099.5 L709.3,2103.4 L710.1,2107.3 L711.0,2111.2 L711.9,2115.1 L712.7,2119.0 L713.6,2122.9 L714.5,2126.8 L715.4,2130.7 L716.3,2134.6 L717.2,2138.5 L718.1,2142.4 L719.0,2146.3 L719.9,2150.2 L720.8,2154.1 L721.7,2158.0 L722.6,2161.9 L723.5,2165.8 L724.5,2169.7 L725.4,2173.6 L726.4,2177.4 L727.4,2181.3 L728.4,2185.2 L729.4,2189.1 L730.4,2193.0 L731.4,2196.8 L732.4,2200.7 L733.4,2204.6 L734.4,2208.4 L735.4,2212.3 L736.4,2216.2 L737.4,2220.0 L738.4,2223.9 L739.4,2227.8 L740.5,2231.7 L741.5,2235.5 L742.5,2239.4 L743.6,2243.2 L744.6,2247.1 L745.7,2251.0 L746.8,2254.8 L747.9,2258.7 L749.0,2262.5 L750.2,2266.3 L751.3,2270.1 L752.5,2274.0 L753.7,2277.8 L754.9,2281.6 L756.2,2285.4 L757.4,2289.2 L758.6,2293.0 L759.8,2296.8 L761.0,2300.6 L762.2,2304.5 L763.4,2308.3 L764.6,2312.1 L765.7,2315.9 L766.9,2319.8 L768.1,2323.6 L769.2,2327.4 L770.4,2331.2 L771.5,2335.1 L772.6,2338.9 L773.8,2342.8 L774.9,2346.6 L776.0,2350.4 L777.2,2354.3 L778.3,2358.1 L779.4,2361.9 L780.5,2365.8 L781.6,2369.6 L782.7,2373.5 L783.9,2377.3 L785.0,2381.2 L786.1,2385.0 L787.2,2388.8 L788.3,2392.7 L789.4,2396.5 L790.6,2400.4 L791.7,2404.2 L792.8,2408.0 L794.0,2411.9 L795.1,2415.7 L796.3,2419.5 L797.4,2423.4 L798.6,2427.2 L799.7,2431.0 L800.9,2434.9 L802.0,2438.7 L803.2,2442.5 L804.3,2446.3 L805.4,2450.2 L806.6,2454.0 L807.7,2457.9 L808.8,2461.7 L810.0,2465.5 L811.1,2469.4 L812.3,2473.2 L813.4,2477.0 L814.6,2480.8 L815.8,2484.7 L816.9,2488.5 L818.1,2492.3 L819.3,2496.1 L820.6,2499.9 L821.8,2503.7 L823.0,2507.6 L824.2,2511.4 L825.5,2515.2 L826.7,2519.0 L827.9,2522.8 L829.2,2526.6 L830.4,2530.4 L831.6,2534.2 L832.9,2538.0 L834.1,2541.8 L835.3,2545.6 L836.5,2549.4 L837.7,2553.2 L839.0,2557.0 L840.2,2560.9 L841.4,2564.7 L842.6,2568.5 L843.8,2572.3 L845.1,2576.1 L846.3,2579.9 L847.5,2583.7 L848.7,2587.5 L850.0,2591.3 L851.2,2595.1 L852.4,2598.9 L853.6,2602.7 L854.9,2606.6 L856.1,2610.4 L857.3,2614.2 L858.5,2618.0 L859.8,2621.8 L861.0,2625.6 L862.2,2629.4 L863.4,2633.2 L864.7,2637.0 L865.9,2640.8 L867.1,2644.6 L868.4,2648.4 L869.6,2652.2 L870.8,2656.0 L872.1,2659.8 L873.3,2663.6 L874.5,2667.5 L875.7,2671.3 L877.0,2675.1 L878.2,2678.9 L879.3,2682.7 L880.5,2686.5 L881.7,2690.4 L882.8,2694.2 L883.9,2698.0 L885.0,2701.9 L886.1,2705.7 L887.2,2709.6 L888.3,2713.4 L889.4,2717.3 L890.5,2721.1 L891.6,2725.0 L892.7,2728.8 L893.8,2732.7 L894.9,2736.5 L896.0,2740.4 L897.1,2744.2 L898.2,2748.1 L899.3,2751.9 L900.4,2755.7 L901.5,2759.6 L902.7,2763.4 L903.9,2767.2 L905.2,2771.0 L906.6,2774.7 L908.2,2778.4 L909.8,2782.1 L911.5,2785.7 L913.2,2789.3 L914.8,2793.0 L916.4,2796.6 L918.0,2800.3 L919.5,2804.0 L921.1,2807.7 L922.6,2811.4 L924.2,2815.1 L925.8,2818.7 L927.5,2822.3 L929.4,2825.9 L931.3,2829.4 L933.4,2832.8 L935.5,2836.2 L937.7,2839.5 L940.0,2842.8 L942.3,2846.1 L944.7,2849.3 L947.0,2852.5 L949.5,2855.7 L951.9,2858.9 L954.5,2862.0 L957.1,2865.0 L959.7,2868.0 L962.5,2870.9 L965.3,2873.7 L968.1,2876.6 L971.0,2879.3 L974.0,2882.0 L977.0,2884.7 L980.1,2887.2 L983.2,2889.7 L986.5,2892.0 L989.8,2894.2 L993.2,2896.3 L996.7,2898.2 L1000.3,2900.0 L1003.9,2901.8 L1007.5,2903.5 L1011.2,2905.1 L1014.9,2906.6 L1018.6,2908.1 L1022.3,2909.4 L1026.1,2910.8 L1029.9,2912.1 L1033.7,2913.3 L1037.5,2914.4 L1041.4,2915.5 L1045.2,2916.6 L1049.1,2917.7 L1053.0,2918.7 L1056.8,2919.7 L1060.7,2920.7 L1064.6,2921.7 L1068.5,2922.6 L1072.4,2923.4 L1076.3,2924.1 L1080.3,2924.8 L1084.2,2925.4 L1088.2,2926.0 L1092.2,2926.5 L1096.1,2927.0 L1100.1,2927.4 L1104.1,2927.9 L1108.1,2928.3 L1112.0,2928.6 L1116.0,2929.0 L1120.0,2929.4 L1124.0,2929.7 L1128.0,2930.0 L1132.0,2930.3 L1136.0,2930.6 L1139.9,2930.9 L1143.9,2931.1 L1147.9,2931.4 L1151.9,2931.6 L1155.9,2931.8 L1159.9,2932.1 L1163.9,2932.3 L1167.9,2932.5 L1171.9,2932.7 L1175.9,2932.9 L1179.9,2933.0 L1183.9,2933.2 L1187.9,2933.4 L1191.9,2933.5 L1195.9,2933.7 L1199.9,2933.8 L1203.9,2934.0 L1207.9,2934.1 L1211.9,2934.2 L1215.9,2934.3 L1219.9,2934.5 L1223.9,2934.6 L1227.9,2934.7 L1231.9,2934.8 L1235.9,2934.9 L1239.9,2935.0 L1243.9,2935.1 L1247.9,2935.1 L1251.9,2935.2 L1255.8,2935.3 L1259.8,2935.4 L1263.8,2935.5 L1267.8,2935.6 L1271.8,2935.7 L1275.8,2935.7 L1279.8,2935.8 L1283.8,2935.9 L1287.8,2936.0 L1291.8,2936.1 L1295.8,2936.2 L1299.8,2936.2 L1303.8,2936.3 L1307.8,2936.4 L1311.8,2936.5 L1315.8,2936.6 L1319.8,2936.7 L1323.8,2936.8 L1327.8,2936.9 L1331.8,2937.0 L1335.8,2937.1 L1339.8,2937.2 L1343.8,2937.3 L1347.8,2937.4 L1351.8,2937.5 L1355.8,2937.5 L1359.8,2937.6 L1363.8,2937.7 L1367.8,2937.8 L1371.8,2937.9 L1375.8,2938.0 L1379.8,2938.1 L1383.8,2938.2 L1387.8,2938.3 L1391.8,2938.4 L1395.8,2938.5 L1399.8,2938.6 L1403.8,2938.7 L1407.8,2938.8 L1411.8,2938.9 L1415.8,2939.0 L1419.8,2939.1 L1423.8,2939.2 L1427.8,2939.3 L1431.8,2939.4 L1435.8,2939.5 L1439.8,2939.6 L1443.8,2939.7 L1447.8,2939.8 L1451.8,2940.0 L1455.8,2940.1 L1459.8,2940.2 L1463.8,2940.3 L1467.8,2940.4 L1471.8,2940.6 L1475.8,2940.7 L1479.8,2940.8 L1483.8,2941.0 L1487.8,2941.1 L1491.8,2941.2 L1495.8,2941.4 L1499.8,2941.5 L1503.8,2941.7 L1507.8,2941.8 L1511.8,2942.0 L1515.8,2942.1 L1519.8,2942.3 L1523.8,2942.4 L1527.7,2942.6 L1531.7,2942.7 L1535.7,2942.9 L1539.7,2943.0 L1543.7,2943.2 L1547.7,2943.3 L1551.7,2943.5 L1555.7,2943.6 L1559.7,2943.7 L1563.7,2943.9 L1567.7,2944.0 L1571.7,2944.2 L1575.7,2944.3 L1579.7,2944.4 L1583.7,2944.6 L1587.7,2944.7 L1591.7,2944.8 L1595.7,2945.0 L1599.7,2945.1 L1603.7,2945.2 L1607.7,2945.3 L1611.7,2945.4 L1615.7,2945.6 L1619.7,2945.7 L1623.7,2945.8 L1627.7,2945.9 L1631.7,2946.0 L1635.7,2946.1 L1639.7,2946.2 L1643.7,2946.3 L1647.7,2946.4 L1651.7,2946.5 L1655.7,2946.6 L1659.7,2946.7 L1663.7,2946.8 L1667.7,2946.9 L1671.7,2947.0 L1675.7,2947.1 L1679.7,2947.2 L1683.7,2947.3 L1687.7,2947.4 L1691.7,2947.5 L1695.7,2947.6 L1699.7,2947.7 L1703.7,2947.7 L1707.7,2947.8 L1711.7,2947.9 L1715.7,2948.0 L1719.7,2948.1 L1723.7,2948.2 L1727.7,2948.3 L1731.7,2948.4 L1735.7,2948.5 L1739.7,2948.6 L1743.7,2948.7 L1747.7,2948.8 L1751.7,2948.9 L1755.7,2949.0 L1759.7,2949.1 L1763.7,2949.2 L1767.7,2949.2 L1771.7,2949.3 L1775.7,2949.4 L1779.6,2949.5 L1783.6,2949.6 L1787.6,2949.7 L1791.6,2949.8 L1795.6,2949.9 L1799.6,2950.0 L1803.6,2950.1 L1807.6,2950.2 L1811.6,2950.2 L1815.6,2950.3 L1819.6,2950.4 L1823.6,2950.5 L1827.6,2950.6 L1831.6,2950.7 L1835.6,2950.8 L1839.6,2950.9 L1843.6,2951.0 L1847.6,2951.0 L1851.6,2951.1 L1855.6,2951.2 L1859.6,2951.3 L1863.6,2951.4 L1867.6,2951.5 L1871.6,2951.6 L1875.0,2951.7" fill="none" stroke="#515151" stroke-width="12.6" stroke-linejoin="round" stroke-linecap="butt" clip-path="url(#clipB)"/>
<path d="M170.0,1986.0 L173.2,1988.3 L176.5,1990.7 L179.7,1993.0 L182.9,1995.4 L186.1,1997.9 L189.3,2000.3 L192.4,2002.8 L195.7,2005.1 L199.0,2007.3 L202.5,2009.3 L206.1,2011.1 L209.7,2012.6 L213.5,2014.0 L217.3,2015.2 L221.1,2016.3 L225.0,2017.4 L228.9,2018.5 L232.7,2019.4 L236.6,2020.4 L240.6,2021.1 L244.5,2021.7 L248.5,2022.0 L252.5,2022.0 L256.5,2021.7 L260.4,2021.0 L264.3,2020.0 L268.0,2018.6 L271.6,2016.8 L275.1,2014.7 L278.4,2012.5 L281.6,2010.2 L284.9,2007.9 L288.3,2005.7 L291.6,2003.6 L295.1,2001.5 L298.5,1999.5 L302.0,1997.4 L305.4,1995.4 L308.7,1993.2 L312.0,1990.9 L315.3,1988.6 L318.5,1986.2 L321.7,1983.8 L324.9,1981.4 L328.0,1978.9 L331.2,1976.4 L334.3,1974.0 L337.5,1971.6 L340.7,1969.2 L343.9,1966.7 L347.1,1964.3 L350.3,1961.9 L353.5,1959.5 L356.7,1957.1 L359.9,1954.7 L363.1,1952.3 L366.3,1949.9 L369.5,1947.6 L372.7,1945.2 L375.9,1942.8 L379.1,1940.4 L382.3,1938.0 L385.5,1935.5 L388.6,1933.1 L391.8,1930.6 L395.0,1928.2 L398.2,1925.8 L401.5,1923.5 L404.8,1921.3 L408.2,1919.2 L411.7,1917.2 L415.2,1915.3 L418.7,1913.4 L422.3,1911.6 L425.9,1909.9 L429.6,1908.3 L433.3,1906.7 L437.0,1905.3 L440.7,1903.8 L444.4,1902.3 L448.1,1900.8 L451.8,1899.2 L455.4,1897.5 L459.0,1895.8 L462.6,1894.0 L466.2,1892.2 L469.7,1890.4 L473.2,1888.5 L476.7,1886.5 L480.2,1884.6 L483.7,1882.6 L487.1,1880.6 L490.6,1878.6 L494.2,1876.8 L497.8,1875.0 L501.4,1873.3 L505.1,1871.8 L508.8,1870.3 L512.6,1868.9 L516.4,1867.7 L520.2,1866.6 L524.1,1865.6 L528.0,1864.7 L531.9,1864.0 L535.9,1863.5 L539.9,1863.1 L543.9,1862.9 L547.9,1862.9 L551.9,1863.1 L555.8,1863.6 L559.8,1864.1 L563.7,1865.0 L567.6,1866.0 L571.4,1867.2 L575.1,1868.6 L578.8,1870.2 L582.4,1871.9 L586.0,1873.7 L589.5,1875.6 L593.0,1877.5 L596.4,1879.6 L599.8,1881.7 L603.2,1883.9 L606.5,1886.0 L609.9,1888.2 L613.3,1890.4 L616.6,1892.5 L620.0,1894.6 L623.5,1896.7 L626.9,1898.8 L630.2,1901.0 L633.5,1903.2 L636.8,1905.6 L640.0,1908.0 L643.1,1910.5 L646.1,1913.1 L649.1,1915.8 L652.0,1918.5 L654.8,1921.4 L657.4,1924.4 L660.0,1927.5 L662.4,1930.7 L664.7,1934.0 L666.8,1937.3 L668.9,1940.8 L670.9,1944.2 L672.8,1947.7 L674.7,1951.3 L676.5,1954.8 L678.2,1958.4 L679.9,1962.1 L681.5,1965.7 L683.0,1969.4 L684.5,1973.2 L685.8,1976.9 L687.1,1980.7 L688.3,1984.5 L689.5,1988.4 L690.5,1992.2 L691.6,1996.1 L692.6,1999.9 L693.6,2003.8 L694.6,2007.7 L695.7,2011.5 L696.7,2015.4 L697.8,2019.3 L698.9,2023.1 L699.9,2027.0 L701.0,2030.8 L702.1,2034.7 L703.1,2038.5 L704.2,2042.4 L705.2,2046.3 L706.2,2050.1 L707.3,2054.0 L708.3,2057.9 L709.3,2061.7 L710.3,2065.6 L711.3,2069.5 L712.2,2073.4 L713.2,2077.2 L714.2,2081.1 L715.2,2085.0 L716.1,2088.9 L717.1,2092.8 L718.1,2096.6 L719.1,2100.5 L720.0,2104.4 L721.0,2108.3 L722.0,2112.1 L723.0,2116.0 L724.0,2119.9 L725.0,2123.8 L726.0,2127.6 L727.0,2131.5 L728.0,2135.4 L729.0,2139.3 L729.9,2143.1 L730.9,2147.0 L731.9,2150.9 L732.8,2154.8 L733.8,2158.7 L734.7,2162.6 L735.6,2166.5 L736.6,2170.3 L737.5,2174.2 L738.4,2178.1 L739.3,2182.0 L740.2,2185.9 L741.1,2189.8 L742.0,2193.7 L742.9,2197.6 L743.7,2201.5 L744.6,2205.4 L745.4,2209.4 L746.2,2213.3 L747.1,2217.2 L747.9,2221.1 L748.7,2225.0 L749.6,2228.9 L750.5,2232.8 L751.4,2236.7 L752.3,2240.6 L753.3,2244.5 L754.3,2248.4 L755.3,2252.2 L756.4,2256.1 L757.5,2259.9 L758.5,2263.8 L759.7,2267.6 L760.8,2271.5 L761.9,2275.3 L763.0,2279.1 L764.1,2283.0 L765.2,2286.8 L766.3,2290.7 L767.4,2294.5 L768.5,2298.4 L769.6,2302.2 L770.7,2306.1 L771.7,2309.9 L772.8,2313.8 L773.9,2317.6 L775.0,2321.5 L776.1,2325.3 L777.2,2329.2 L778.3,2333.0 L779.3,2336.9 L780.4,2340.7 L781.5,2344.6 L782.6,2348.4 L783.6,2352.3 L784.7,2356.1 L785.8,2360.0 L786.8,2363.9 L787.9,2367.7 L789.0,2371.6 L790.1,2375.4 L791.2,2379.3 L792.2,2383.1 L793.3,2387.0 L794.4,2390.8 L795.5,2394.7 L796.6,2398.5 L797.7,2402.4 L798.7,2406.2 L799.8,2410.1 L800.9,2413.9 L802.0,2417.8 L803.1,2421.6 L804.1,2425.5 L805.2,2429.3 L806.3,2433.2 L807.4,2437.0 L808.5,2440.9 L809.6,2444.7 L810.7,2448.6 L811.8,2452.4 L812.9,2456.3 L813.9,2460.1 L815.0,2464.0 L816.2,2467.8 L817.3,2471.6 L818.4,2475.5 L819.5,2479.3 L820.6,2483.2 L821.7,2487.0 L822.9,2490.8 L824.0,2494.7 L825.1,2498.5 L826.3,2502.4 L827.4,2506.2 L828.5,2510.0 L829.7,2513.9 L830.8,2517.7 L832.0,2521.5 L833.1,2525.4 L834.3,2529.2 L835.4,2533.0 L836.5,2536.9 L837.7,2540.7 L838.8,2544.5 L840.0,2548.3 L841.1,2552.2 L842.3,2556.0 L843.4,2559.8 L844.6,2563.7 L845.8,2567.5 L846.9,2571.3 L848.1,2575.1 L849.3,2579.0 L850.5,2582.8 L851.7,2586.6 L852.9,2590.4 L854.1,2594.2 L855.3,2598.0 L856.5,2601.9 L857.7,2605.7 L858.9,2609.5 L860.1,2613.3 L861.3,2617.1 L862.5,2620.9 L863.7,2624.7 L864.9,2628.6 L866.1,2632.4 L867.3,2636.2 L868.4,2640.0 L869.6,2643.9 L870.7,2647.7 L871.8,2651.5 L873.0,2655.4 L874.1,2659.2 L875.3,2663.0 L876.5,2666.9 L877.6,2670.7 L878.8,2674.5 L880.0,2678.3 L881.2,2682.1 L882.5,2685.9 L883.7,2689.7 L884.9,2693.5 L886.2,2697.3 L887.4,2701.1 L888.7,2704.9 L889.9,2708.7 L891.1,2712.6 L892.3,2716.4 L893.5,2720.2 L894.7,2724.0 L895.8,2727.9 L897.0,2731.7 L898.1,2735.5 L899.2,2739.4 L900.3,2743.2 L901.4,2747.1 L902.5,2750.9 L903.7,2754.7 L904.9,2758.5 L906.1,2762.4 L907.3,2766.2 L908.6,2770.0 L909.8,2773.8 L911.1,2777.5 L912.4,2781.3 L913.8,2785.1 L915.2,2788.8 L916.6,2792.6 L918.1,2796.3 L919.5,2800.0 L921.0,2803.7 L922.6,2807.4 L924.1,2811.1 L925.8,2814.8 L927.5,2818.4 L929.3,2821.9 L931.2,2825.5 L933.1,2829.0 L935.2,2832.4 L937.4,2835.7 L939.6,2839.0 L941.9,2842.3 L944.2,2845.6 L946.6,2848.8 L949.0,2852.0 L951.4,2855.2 L953.9,2858.3 L956.5,2861.4 L959.1,2864.4 L961.8,2867.4 L964.5,2870.3 L967.3,2873.1 L970.2,2875.9 L973.1,2878.7 L976.1,2881.3 L979.1,2884.0 L982.2,2886.5 L985.4,2888.9 L988.7,2891.2 L992.0,2893.4 L995.5,2895.4 L999.0,2897.3 L1002.6,2899.1 L1006.2,2900.8 L1009.8,2902.5 L1013.5,2904.0 L1017.2,2905.6 L1020.9,2907.0 L1024.7,2908.4 L1028.5,2909.7 L1032.3,2910.9 L1036.1,2912.1 L1039.9,2913.3 L1043.8,2914.4 L1047.6,2915.4 L1051.5,2916.5 L1055.3,2917.5 L1059.2,2918.6 L1063.1,2919.5 L1067.0,2920.5 L1070.9,2921.3 L1074.8,2922.1 L1078.7,2922.8 L1082.7,2923.5 L1086.6,2924.1 L1090.6,2924.6 L1094.6,2925.1 L1098.5,2925.6 L1102.5,2926.1 L1106.5,2926.5 L1110.5,2926.9 L1114.5,2927.3 L1118.4,2927.6 L1122.4,2928.0 L1126.4,2928.3 L1130.4,2928.6 L1134.4,2928.9 L1138.4,2929.2 L1142.4,2929.4 L1146.4,2929.7 L1150.4,2929.9 L1154.4,2930.2 L1158.3,2930.4 L1162.3,2930.6 L1166.3,2930.8 L1170.3,2931.0 L1174.3,2931.2 L1178.3,2931.4 L1182.3,2931.6 L1186.3,2931.8 L1190.3,2931.9 L1194.3,2932.1 L1198.3,2932.2 L1202.3,2932.4 L1206.3,2932.5 L1210.3,2932.6 L1214.3,2932.8 L1218.3,2932.9 L1222.3,2933.0 L1226.3,2933.1 L1230.3,2933.2 L1234.3,2933.3 L1238.3,2933.4 L1242.3,2933.5 L1246.3,2933.6 L1250.3,2933.7 L1254.3,2933.8 L1258.3,2933.9 L1262.3,2933.9 L1266.3,2934.0 L1270.3,2934.1 L1274.3,2934.2 L1278.3,2934.3 L1282.3,2934.4 L1286.3,2934.4 L1290.3,2934.5 L1294.3,2934.6 L1298.3,2934.7 L1302.3,2934.8 L1306.3,2934.9 L1310.3,2935.0 L1314.3,2935.1 L1318.3,2935.2 L1322.3,2935.3 L1326.3,2935.4 L1330.3,2935.4 L1334.3,2935.5 L1338.3,2935.6 L1342.3,2935.7 L1346.3,2935.8 L1350.3,2935.9 L1354.3,2936.0 L1358.3,2936.1 L1362.3,2936.2 L1366.3,2936.3 L1370.3,2936.4 L1374.3,2936.5 L1378.3,2936.6 L1382.2,2936.7 L1386.2,2936.8 L1390.2,2936.9 L1394.2,2937.0 L1398.2,2937.1 L1402.2,2937.2 L1406.2,2937.3 L1410.2,2937.3 L1414.2,2937.4 L1418.2,2937.6 L1422.2,2937.7 L1426.2,2937.8 L1430.2,2937.9 L1434.2,2938.0 L1438.2,2938.1 L1442.2,2938.2 L1446.2,2938.3 L1450.2,2938.4 L1454.2,2938.5 L1458.2,2938.7 L1462.2,2938.8 L1466.2,2938.9 L1470.2,2939.0 L1474.2,2939.2 L1478.2,2939.3 L1482.2,2939.4 L1486.2,2939.6 L1490.2,2939.7 L1494.2,2939.8 L1498.2,2940.0 L1502.2,2940.1 L1506.2,2940.3 L1510.2,2940.4 L1514.2,2940.6 L1518.2,2940.7 L1522.2,2940.9 L1526.2,2941.0 L1530.2,2941.2 L1534.2,2941.3 L1538.2,2941.5 L1542.2,2941.6 L1546.2,2941.8 L1550.2,2941.9 L1554.2,2942.0 L1558.2,2942.2 L1562.2,2942.3 L1566.2,2942.5 L1570.2,2942.6 L1574.2,2942.8 L1578.1,2942.9 L1582.1,2943.0 L1586.1,2943.2 L1590.1,2943.3 L1594.1,2943.4 L1598.1,2943.5 L1602.1,2943.7 L1606.1,2943.8 L1610.1,2943.9 L1614.1,2944.0 L1618.1,2944.1 L1622.1,2944.2 L1626.1,2944.3 L1630.1,2944.4 L1634.1,2944.6 L1638.1,2944.7 L1642.1,2944.8 L1646.1,2944.9 L1650.1,2945.0 L1654.1,2945.1 L1658.1,2945.2 L1662.1,2945.3 L1666.1,2945.4 L1670.1,2945.5 L1674.1,2945.6 L1678.1,2945.6 L1682.1,2945.7 L1686.1,2945.8 L1690.1,2945.9 L1694.1,2946.0 L1698.1,2946.1 L1702.1,2946.2 L1706.1,2946.3 L1710.1,2946.4 L1714.1,2946.5 L1718.1,2946.6 L1722.1,2946.7 L1726.1,2946.8 L1730.1,2946.9 L1734.1,2947.0 L1738.1,2947.1 L1742.1,2947.1 L1746.1,2947.2 L1750.1,2947.3 L1754.1,2947.4 L1758.1,2947.5 L1762.1,2947.6 L1766.1,2947.7 L1770.1,2947.8 L1774.1,2947.9 L1778.1,2948.0 L1782.1,2948.1 L1786.1,2948.2 L1790.1,2948.3 L1794.1,2948.3 L1798.1,2948.4 L1802.1,2948.5 L1806.1,2948.6 L1810.1,2948.7 L1814.1,2948.8 L1818.1,2948.9 L1822.1,2949.0 L1826.1,2949.1 L1830.1,2949.2 L1834.1,2949.2 L1838.1,2949.3 L1842.1,2949.4 L1846.1,2949.5 L1850.1,2949.6 L1854.1,2949.7 L1858.1,2949.8 L1862.1,2949.9 L1866.1,2950.0 L1870.1,2950.1 L1874.1,2950.2 L1875.0,2950.2" fill="none" stroke="#1A6FDF" stroke-width="12.6" stroke-linejoin="round" stroke-linecap="butt" clip-path="url(#clipB)"/>
<text transform="translate(140.99,3083.05) scale(0.9811,1)" font-family='"Liberation Sans", sans-serif' font-size="45.86" stroke="#000" stroke-width="0.5" fill="#000">300</text>
<text transform="translate(281.73,3083.05) scale(0.9829,1)" font-family='"Liberation Sans", sans-serif' font-size="45.86" stroke="#000" stroke-width="0.5" fill="#000">325</text>
<text transform="translate(422.49,3083.05) scale(0.9811,1)" font-family='"Liberation Sans", sans-serif' font-size="45.86" stroke="#000" stroke-width="0.5" fill="#000">350</text>
<text transform="translate(563.23,3083.05) scale(0.9829,1)" font-family='"Liberation Sans", sans-serif' font-size="45.86" stroke="#000" stroke-width="0.5" fill="#000">375</text>
<text transform="translate(704.68,3083.05) scale(0.9719,1)" font-family='"Liberation Sans", sans-serif' font-size="45.86" stroke="#000" stroke-width="0.5" fill="#000">400</text>
<text transform="translate(845.43,3083.05) scale(0.9736,1)" font-family='"Liberation Sans", sans-serif' font-size="45.86" stroke="#000" stroke-width="0.5" fill="#000">425</text>
<text transform="translate(986.18,3083.05) scale(0.9719,1)" font-family='"Liberation Sans", sans-serif' font-size="45.86" stroke="#000" stroke-width="0.5" fill="#000">450</text>
<text transform="translate(1126.93,3083.05) scale(0.9736,1)" font-family='"Liberation Sans", sans-serif' font-size="45.86" stroke="#000" stroke-width="0.5" fill="#000">475</text>
<text transform="translate(1266.9,3083.05) scale(0.9823,1)" font-family='"Liberation Sans", sans-serif' font-size="45.86" stroke="#000" stroke-width="0.5" fill="#000">500</text>
<text transform="translate(1407.64,3083.05) scale(0.9841,1)" font-family='"Liberation Sans", sans-serif' font-size="45.86" stroke="#000" stroke-width="0.5" fill="#000">525</text>
<text transform="translate(1548.4,3083.05) scale(0.9823,1)" font-family='"Liberation Sans", sans-serif' font-size="45.86" stroke="#000" stroke-width="0.5" fill="#000">550</text>
<text transform="translate(1689.14,3083.05) scale(0.9841,1)" font-family='"Liberation Sans", sans-serif' font-size="45.86" stroke="#000" stroke-width="0.5" fill="#000">575</text>
<text transform="translate(1829.4,3083.05) scale(0.9890,1)" font-family='"Liberation Sans", sans-serif' font-size="45.86" stroke="#000" stroke-width="0.5" fill="#000">600</text>
<text transform="translate(202.79,1829.12) scale(0.9660,1)" font-family='"Liberation Sans", sans-serif' font-size="75.1" font-weight="bold" fill="#000">(b)</text>
<text transform="translate(100,2598.35) rotate(-90) scale(0.9774,1)" font-family='"Liberation Sans", sans-serif' font-size="59.59" font-weight="bold" fill="#000">Absorbance (a.u.)</text>
<text transform="translate(813.06,3174.9) scale(0.9029,1)" font-family='"Liberation Sans", sans-serif' font-size="61.48" stroke="#000" stroke-width="0.5" fill="#000">Wavelength (nm)</text>
<rect x="1204.4" y="2179.8" width="124.6" height="11.6" fill="#515151"/>
<rect x="1204.4" y="2264.6" width="124.6" height="11.6" fill="#F14040"/>
<rect x="1204.4" y="2348.6" width="124.6" height="11.6" fill="#1A6FDF"/>
<text transform="translate(1343.53,2205.4) scale(0.9595,1)" font-family='"Liberation Sans", sans-serif' font-size="56.25" stroke="#000" stroke-width="0.5" fill="#000"><tspan font-size="56.25" dy="0">g-C</tspan><tspan font-size="42.75" dy="14.63">3</tspan><tspan font-size="56.25" dy="-14.63">N</tspan><tspan font-size="42.75" dy="14.63">4</tspan></text>
<text transform="translate(1343.25,2289) scale(0.9525,1)" font-family='"Liberation Sans", sans-serif' font-size="56.98" stroke="#000" stroke-width="0.5" fill="#000"><tspan font-size="56.98" dy="0">HC</tspan><tspan font-size="43.3" dy="14.81">3</tspan><tspan font-size="56.98" dy="-14.81">N</tspan><tspan font-size="43.3" dy="14.81">4</tspan></text>
<text transform="translate(1344.05,2373.5) scale(0.9396,1)" font-family='"Liberation Sans", sans-serif' font-size="57.7" stroke="#000" stroke-width="0.5" fill="#000"><tspan font-size="57.7" dy="0">Co/HC</tspan><tspan font-size="43.86" dy="15">3</tspan><tspan font-size="57.7" dy="-15">N</tspan><tspan font-size="43.86" dy="15">4</tspan></text>
</g>
<g id="panel-c">
<clipPath id="clipC"><rect x="171" y="3417" width="1663" height="1205"/></clipPath>
<rect x="166" y="3411" width="1679" height="12" fill="#000"/>
<rect x="166" y="3411" width="10" height="1217" fill="#000"/>
<rect x="1834" y="3411" width="11" height="1217" fill="#000"/>
<rect x="166" y="4616" width="1679" height="12" fill="#000"/>
<g clip-path="url(#clipC)"><g transform="scale(0.92,1)">
<path d="M173.9,4488.0 L177.5,4488.0 L181.2,4488.0 L184.8,4488.0 L188.4,4488.0 L192.0,4488.0 L195.7,4488.0 L199.3,4488.0 L202.9,4488.0 L206.6,4488.0 L210.2,4488.0 L213.8,4488.0 L217.4,4488.0 L221.1,4488.0 L224.7,4488.0 L228.3,4488.1 L231.9,4488.1 L235.6,4488.1 L239.2,4488.1 L242.8,4488.1 L246.5,4488.1 L250.1,4488.1 L253.7,4488.1 L257.3,4488.1 L261.0,4488.1 L264.6,4488.1 L268.2,4488.1 L271.8,4488.1 L275.5,4488.1 L279.1,4488.1 L282.7,4488.1 L286.4,4488.1 L290.0,4488.1 L293.6,4488.1 L297.2,4488.1 L300.9,4488.1 L304.5,4488.1 L308.1,4488.1 L311.7,4488.1 L315.4,4488.0 L319.0,4488.0 L322.6,4488.0 L326.3,4488.0 L329.9,4488.0 L333.5,4488.0 L337.1,4488.0 L340.8,4488.0 L344.4,4488.0 L348.0,4488.0 L351.6,4488.0 L355.3,4488.0 L358.9,4488.0 L362.5,4488.1 L366.2,4488.1 L369.8,4488.1 L373.4,4488.1 L377.0,4488.1 L380.7,4488.1 L384.3,4488.1 L387.9,4488.1 L391.5,4488.1 L395.2,4488.1 L398.8,4488.1 L402.4,4488.0 L406.1,4488.0 L409.7,4487.9 L413.3,4487.9 L416.9,4487.8 L420.6,4487.7 L424.2,4487.5 L427.8,4487.4 L431.4,4487.2 L435.1,4487.0 L438.7,4486.7 L442.3,4486.5 L446.0,4486.2 L449.6,4485.9 L453.2,4485.6 L456.8,4485.3 L460.5,4484.9 L464.1,4484.5 L467.7,4484.0 L471.3,4483.5 L475.0,4483.0 L478.6,4482.8 L482.2,4482.0 L485.8,4481.1 L489.5,4480.3 L493.1,4480.0 L496.7,4479.2 L500.4,4477.8 L504.0,4476.6 L507.6,4475.2 L511.2,4473.6 L514.9,4472.1 L518.5,4470.5 L522.1,4468.6 L525.7,4466.2 L529.4,4463.5 L533.0,4460.7 L536.6,4457.4 L540.3,4454.2 L543.9,4450.5 L547.5,4445.8 L551.1,4440.6 L554.8,4435.5 L558.4,4430.3 L562.0,4424.6 L565.6,4418.1 L569.3,4410.6 L572.9,4402.9 L576.5,4394.8 L580.2,4385.5 L583.8,4375.4 L587.4,4365.2 L591.0,4354.1 L594.7,4341.2 L598.3,4327.5 L601.9,4313.2 L605.5,4298.2 L609.2,4283.7 L612.8,4263.0 L616.4,4241.0 L620.1,4219.9 L623.7,4197.8 L627.3,4174.4 L630.9,4148.4 L634.6,4122.4 L638.2,4098.2 L641.8,4072.7 L645.4,4045.4 L649.1,4016.6 L652.7,3987.6 L656.3,3957.7 L660.0,3920.3 L663.6,3880.1 L667.2,3837.8 L670.8,3803.4 L674.5,3773.4 L678.1,3744.7 L681.7,3717.6 L685.3,3692.2 L689.0,3667.9 L692.6,3646.6 L696.2,3627.6 L699.9,3609.7 L703.5,3594.9 L707.1,3586.7 L710.7,3578.3 L714.4,3567.5 L718.0,3557.9 L721.6,3550.9 L725.2,3554.0 L728.9,3565.7 L732.5,3575.2 L736.1,3577.8 L739.8,3579.7 L743.4,3594.0 L747.0,3610.2 L750.6,3615.3 L754.3,3617.2 L757.9,3623.2 L761.5,3637.4 L765.1,3654.6 L768.8,3661.3 L772.4,3661.8 L776.0,3662.4 L779.7,3666.8 L783.3,3677.4 L786.9,3688.1 L790.5,3694.9 L794.2,3698.9 L797.8,3706.0 L801.4,3716.7 L805.0,3722.8 L808.7,3723.4 L812.3,3727.4 L815.9,3734.9 L819.5,3737.0 L823.2,3732.4 L826.8,3727.3 L830.4,3724.1 L834.1,3723.0 L837.7,3724.9 L841.3,3727.3 L844.9,3727.0 L848.6,3724.6 L852.2,3720.3 L855.8,3716.8 L859.4,3715.4 L863.1,3714.8 L866.7,3713.1 L870.3,3713.7 L874.0,3718.7 L877.6,3723.0 L881.2,3725.4 L884.8,3727.9 L888.5,3731.0 L892.1,3735.4 L895.7,3739.3 L899.3,3739.2 L903.0,3735.9 L906.6,3733.3 L910.2,3735.0 L913.9,3742.1 L917.5,3750.3 L921.1,3756.5 L924.7,3760.3 L928.4,3761.1 L932.0,3762.1 L935.6,3764.0 L939.2,3764.5 L942.9,3768.6 L946.5,3775.9 L950.1,3780.6 L953.8,3784.5 L957.4,3788.9 L961.0,3793.5 L964.6,3796.4 L968.3,3799.1 L971.9,3805.6 L975.5,3811.2 L979.1,3816.1 L982.8,3823.7 L986.4,3832.8 L990.0,3841.5 L993.7,3848.2 L997.3,3854.9 L1000.9,3863.7 L1004.5,3874.1 L1008.2,3886.9 L1011.8,3898.7 L1015.4,3907.9 L1019.0,3918.4 L1022.7,3929.8 L1026.3,3939.8 L1029.9,3947.7 L1033.6,3956.3 L1037.2,3967.9 L1040.8,3980.7 L1044.4,3989.8 L1048.1,3996.4 L1051.7,4004.2 L1055.3,4012.1 L1058.9,4019.2 L1062.6,4025.6 L1066.2,4031.2 L1069.8,4036.6 L1073.5,4044.9 L1077.1,4054.1 L1080.7,4059.6 L1084.3,4063.6 L1088.0,4068.5 L1091.6,4074.3 L1095.2,4079.8 L1098.8,4085.2 L1102.5,4092.4 L1106.1,4099.2 L1109.7,4104.5 L1113.4,4110.0 L1117.0,4115.9 L1120.6,4123.3 L1124.2,4129.8 L1127.9,4133.8 L1131.5,4139.9 L1135.1,4146.5 L1138.7,4152.2 L1142.4,4159.7 L1146.0,4167.0 L1149.6,4172.2 L1153.2,4177.0 L1156.9,4182.6 L1160.5,4189.6 L1164.1,4196.3 L1167.8,4200.1 L1171.4,4203.1 L1175.0,4209.7 L1178.6,4214.0 L1182.3,4218.8 L1185.9,4224.0 L1189.5,4228.3 L1193.1,4232.7 L1196.8,4237.8 L1200.4,4242.8 L1204.0,4248.6 L1207.7,4254.0 L1211.3,4258.2 L1214.9,4262.9 L1218.5,4268.6 L1222.2,4274.7 L1225.8,4279.3 L1229.4,4283.1 L1233.0,4287.7 L1236.7,4291.9 L1240.3,4295.7 L1243.9,4299.9 L1247.6,4303.7 L1251.2,4307.2 L1254.8,4311.3 L1258.4,4316.1 L1262.1,4321.7 L1265.7,4327.5 L1269.3,4331.6 L1272.9,4333.8 L1276.6,4336.4 L1280.2,4340.6 L1283.8,4345.3 L1287.5,4350.2 L1291.1,4353.5 L1294.7,4356.5 L1298.3,4360.5 L1302.0,4363.8 L1305.6,4366.3 L1309.2,4369.8 L1312.8,4373.4 L1316.5,4376.4 L1320.1,4378.8 L1323.7,4380.9 L1327.4,4382.9 L1331.0,4384.4 L1334.6,4386.5 L1338.2,4389.2 L1341.9,4391.1 L1345.5,4392.0 L1349.1,4393.0 L1352.7,4395.2 L1356.4,4397.2 L1360.0,4398.6 L1363.6,4400.5 L1367.3,4402.2 L1370.9,4403.7 L1374.5,4405.4 L1378.1,4407.4 L1381.8,4409.3 L1385.4,4410.9 L1389.0,4412.6 L1392.6,4413.4 L1396.3,4414.8 L1399.9,4416.8 L1403.5,4418.2 L1407.2,4420.1 L1410.8,4422.9 L1414.4,4424.4 L1418.0,4425.2 L1421.7,4427.8 L1425.3,4430.9 L1428.9,4432.3 L1432.5,4433.0 L1436.2,4434.2 L1439.8,4435.8 L1443.4,4437.4 L1447.1,4439.4 L1450.7,4441.3 L1454.3,4443.4 L1457.9,4445.3 L1461.6,4446.1 L1465.2,4447.2 L1468.8,4449.1 L1472.4,4450.3 L1476.1,4451.5 L1479.7,4452.8 L1483.3,4453.8 L1486.9,4454.7 L1490.6,4456.1 L1494.2,4457.4 L1497.8,4457.9 L1501.5,4458.6 L1505.1,4459.7 L1508.7,4460.5 L1512.3,4461.1 L1516.0,4461.5 L1519.6,4461.5 L1523.2,4462.2 L1526.8,4463.2 L1530.5,4464.1 L1534.1,4464.8 L1537.7,4465.1 L1541.4,4465.5 L1545.0,4466.0 L1548.6,4466.6 L1552.2,4467.3 L1555.9,4467.9 L1559.5,4468.2 L1563.1,4468.6 L1566.7,4469.3 L1570.4,4470.4 L1574.0,4471.2 L1577.6,4471.6 L1581.3,4472.1 L1584.9,4472.5 L1588.5,4472.9 L1592.1,4473.2 L1595.8,4473.4 L1599.4,4473.8 L1603.0,4474.5 L1606.6,4475.0 L1610.3,4475.4 L1613.9,4475.8 L1617.5,4476.5 L1621.2,4476.9 L1624.8,4476.8 L1628.4,4477.1 L1632.0,4477.6 L1635.7,4477.8 L1639.3,4478.1 L1642.9,4478.3 L1646.5,4478.3 L1650.2,4478.4 L1653.8,4478.9 L1657.4,4479.0 L1661.1,4479.2 L1664.7,4479.9 L1668.3,4480.4 L1671.9,4480.6 L1675.6,4480.2 L1679.2,4479.8 L1682.8,4480.1 L1686.4,4480.5 L1690.1,4480.5 L1693.7,4480.6 L1697.3,4480.7 L1701.0,4480.6 L1704.6,4480.8 L1708.2,4480.9 L1711.8,4481.2 L1715.5,4481.8 L1719.1,4482.2 L1722.7,4482.1 L1726.3,4481.9 L1730.0,4482.0 L1733.6,4482.7 L1737.2,4482.9 L1740.9,4482.8 L1744.5,4483.1 L1748.1,4483.3 L1751.7,4483.7 L1755.4,4484.1 L1759.0,4484.3 L1762.6,4484.4 L1766.2,4484.4 L1769.9,4484.2 L1773.5,4484.3 L1777.1,4484.5 L1780.8,4484.7 L1784.4,4485.0 L1788.0,4485.3 L1791.6,4485.2 L1795.3,4485.0 L1798.9,4485.1 L1802.5,4485.1 L1806.1,4485.1 L1809.8,4485.2 L1813.4,4485.2 L1817.0,4485.2 L1820.6,4485.2 L1824.3,4485.2 L1827.9,4485.2 L1831.5,4485.2 L1835.2,4485.2 L1838.8,4485.2 L1842.4,4485.2 L1846.0,4485.2 L1849.7,4485.1 L1853.3,4485.1 L1856.9,4485.1 L1860.5,4485.1 L1864.2,4485.0 L1867.8,4485.0 L1871.4,4485.0 L1875.1,4484.9 L1878.7,4484.9 L1882.3,4484.8 L1885.9,4484.8 L1889.6,4484.7 L1893.2,4484.7 L1896.8,4484.6 L1900.4,4484.5 L1904.1,4484.4 L1907.7,4484.3 L1911.3,4484.2 L1915.0,4484.1 L1918.6,4484.0 L1922.2,4483.9 L1925.8,4483.8 L1929.5,4483.7 L1933.1,4483.6 L1936.7,4483.4 L1940.3,4483.3 L1944.0,4483.2 L1947.6,4483.0 L1951.2,4482.9 L1954.9,4482.7 L1958.5,4482.6 L1962.1,4482.4 L1965.7,4482.2 L1969.4,4482.1 L1973.0,4481.9 L1976.6,4481.7 L1980.2,4481.6 L1983.9,4481.4 L1987.5,4481.3 L1991.1,4481.1 L1994.8,4481.0 L1998.4,4480.9 L2002.0,4480.7 L2005.6,4480.6 L2009.3,4480.5" fill="none" stroke="#515151" stroke-width="15.6" stroke-linejoin="round" stroke-linecap="butt"/>
<path d="M173.9,4488.0 L177.5,4488.0 L181.2,4488.0 L184.8,4488.0 L188.4,4488.0 L192.0,4488.0 L195.7,4488.0 L199.3,4488.0 L202.9,4488.0 L206.6,4488.0 L210.2,4488.0 L213.8,4488.0 L217.4,4488.0 L221.1,4488.0 L224.7,4488.0 L228.3,4488.0 L231.9,4488.0 L235.6,4488.0 L239.2,4488.0 L242.8,4488.0 L246.5,4488.0 L250.1,4488.0 L253.7,4488.0 L257.3,4488.0 L261.0,4488.0 L264.6,4488.0 L268.2,4488.0 L271.8,4488.0 L275.5,4488.0 L279.1,4488.0 L282.7,4488.0 L286.4,4488.0 L290.0,4488.0 L293.6,4488.0 L297.2,4488.0 L300.9,4488.0 L304.5,4488.0 L308.1,4488.0 L311.7,4488.0 L315.4,4488.0 L319.0,4488.0 L322.6,4488.0 L326.3,4488.0 L329.9,4488.0 L333.5,4488.0 L337.1,4488.0 L340.8,4488.0 L344.4,4488.0 L348.0,4488.0 L351.6,4488.0 L355.3,4488.0 L358.9,4488.0 L362.5,4488.0 L366.2,4488.0 L369.8,4488.0 L373.4,4488.0 L377.0,4488.0 L380.7,4488.0 L384.3,4487.9 L387.9,4487.9 L391.5,4487.9 L395.2,4487.9 L398.8,4487.9 L402.4,4487.9 L406.1,4487.9 L409.7,4487.8 L413.3,4487.8 L416.9,4487.8 L420.6,4487.7 L424.2,4487.7 L427.8,4487.6 L431.4,4487.6 L435.1,4487.5 L438.7,4487.4 L442.3,4487.4 L446.0,4487.4 L449.6,4487.3 L453.2,4487.3 L456.8,4487.3 L460.5,4487.3 L464.1,4487.2 L467.7,4487.1 L471.3,4487.0 L475.0,4486.9 L478.6,4486.9 L482.2,4486.4 L485.8,4485.9 L489.5,4485.1 L493.1,4484.5 L496.7,4484.3 L500.4,4484.1 L504.0,4483.0 L507.6,4482.0 L511.2,4481.3 L514.9,4480.5 L518.5,4479.6 L522.1,4478.6 L525.7,4477.1 L529.4,4475.7 L533.0,4474.8 L536.6,4473.9 L540.3,4472.3 L543.9,4470.2 L547.5,4468.4 L551.1,4466.7 L554.8,4464.6 L558.4,4461.8 L562.0,4459.4 L565.6,4456.9 L569.3,4453.4 L572.9,4449.5 L576.5,4445.6 L580.2,4441.5 L583.8,4437.0 L587.4,4431.9 L591.0,4426.4 L594.7,4420.7 L598.3,4414.2 L601.9,4406.9 L605.5,4398.9 L609.2,4390.5 L612.8,4383.6 L616.4,4374.6 L620.1,4363.3 L623.7,4353.0 L627.3,4341.8 L630.9,4329.2 L634.6,4315.8 L638.2,4301.8 L641.8,4285.5 L645.4,4267.1 L649.1,4247.6 L652.7,4225.9 L656.3,4203.8 L660.0,4183.1 L663.6,4161.4 L667.2,4137.3 L670.8,4112.5 L674.5,4088.3 L678.1,4065.7 L681.7,4041.9 L685.3,4013.7 L689.0,3988.7 L692.6,3966.9 L696.2,3947.9 L699.9,3932.9 L703.5,3920.1 L707.1,3907.9 L710.7,3895.2 L714.4,3881.9 L718.0,3869.7 L721.6,3862.9 L725.2,3861.4 L728.9,3858.7 L732.5,3855.9 L736.1,3853.8 L739.8,3853.2 L743.4,3854.4 L747.0,3853.0 L750.6,3849.8 L754.3,3848.9 L757.9,3850.3 L761.5,3851.3 L765.1,3850.8 L768.8,3847.6 L772.4,3843.1 L776.0,3843.8 L779.7,3848.2 L783.3,3850.1 L786.9,3851.6 L790.5,3854.1 L794.2,3856.7 L797.8,3857.3 L801.4,3855.7 L805.0,3853.8 L808.7,3853.1 L812.3,3853.6 L815.9,3850.7 L819.5,3846.9 L823.2,3844.9 L826.8,3839.2 L830.4,3832.3 L834.1,3828.1 L837.7,3824.9 L841.3,3822.2 L844.9,3818.6 L848.6,3814.6 L852.2,3809.8 L855.8,3804.3 L859.4,3803.1 L863.1,3803.7 L866.7,3801.8 L870.3,3797.7 L874.0,3791.9 L877.6,3788.8 L881.2,3791.2 L884.8,3794.2 L888.5,3792.6 L892.1,3790.3 L895.7,3791.3 L899.3,3793.8 L903.0,3793.8 L906.6,3792.3 L910.2,3788.8 L913.9,3786.3 L917.5,3790.4 L921.1,3794.7 L924.7,3794.0 L928.4,3791.6 L932.0,3790.1 L935.6,3792.0 L939.2,3797.5 L942.9,3799.3 L946.5,3799.5 L950.1,3801.5 L953.8,3802.0 L957.4,3803.4 L961.0,3806.3 L964.6,3809.3 L968.3,3812.7 L971.9,3814.1 L975.5,3811.9 L979.1,3809.9 L982.8,3811.5 L986.4,3816.0 L990.0,3822.2 L993.7,3828.6 L997.3,3837.3 L1000.9,3847.8 L1004.5,3856.8 L1008.2,3864.5 L1011.8,3874.3 L1015.4,3883.7 L1019.0,3890.4 L1022.7,3898.2 L1026.3,3910.1 L1029.9,3921.8 L1033.6,3932.1 L1037.2,3942.5 L1040.8,3949.4 L1044.4,3955.1 L1048.1,3964.3 L1051.7,3974.5 L1055.3,3982.9 L1058.9,3990.5 L1062.6,4001.2 L1066.2,4011.4 L1069.8,4015.4 L1073.5,4016.4 L1077.1,4017.3 L1080.7,4020.1 L1084.3,4026.1 L1088.0,4031.8 L1091.6,4036.6 L1095.2,4042.4 L1098.8,4049.9 L1102.5,4056.1 L1106.1,4059.5 L1109.7,4064.6 L1113.4,4073.3 L1117.0,4080.7 L1120.6,4084.9 L1124.2,4087.6 L1127.9,4090.4 L1131.5,4096.6 L1135.1,4104.6 L1138.7,4110.6 L1142.4,4115.8 L1146.0,4121.7 L1149.6,4126.9 L1153.2,4130.1 L1156.9,4132.8 L1160.5,4138.0 L1164.1,4145.7 L1167.8,4152.7 L1171.4,4159.6 L1175.0,4165.3 L1178.6,4170.3 L1182.3,4175.6 L1185.9,4181.3 L1189.5,4186.3 L1193.1,4192.6 L1196.8,4200.7 L1200.4,4207.8 L1204.0,4213.2 L1207.7,4218.0 L1211.3,4223.3 L1214.9,4229.0 L1218.5,4233.7 L1222.2,4238.8 L1225.8,4245.1 L1229.4,4251.0 L1233.0,4255.3 L1236.7,4258.9 L1240.3,4263.4 L1243.9,4268.3 L1247.6,4273.0 L1251.2,4277.9 L1254.8,4283.3 L1258.4,4288.0 L1262.1,4292.1 L1265.7,4296.2 L1269.3,4300.4 L1272.9,4305.1 L1276.6,4308.9 L1280.2,4312.3 L1283.8,4316.5 L1287.5,4320.5 L1291.1,4324.2 L1294.7,4327.5 L1298.3,4331.0 L1302.0,4334.9 L1305.6,4339.1 L1309.2,4343.0 L1312.8,4346.6 L1316.5,4350.2 L1320.1,4354.1 L1323.7,4357.0 L1327.4,4359.1 L1331.0,4361.6 L1334.6,4363.4 L1338.2,4364.5 L1341.9,4365.9 L1345.5,4368.8 L1349.1,4372.0 L1352.7,4373.8 L1356.4,4374.6 L1360.0,4376.4 L1363.6,4378.9 L1367.3,4380.6 L1370.9,4382.0 L1374.5,4384.3 L1378.1,4386.8 L1381.8,4388.6 L1385.4,4390.5 L1389.0,4392.2 L1392.6,4393.6 L1396.3,4395.7 L1399.9,4397.6 L1403.5,4399.7 L1407.2,4402.6 L1410.8,4404.9 L1414.4,4406.1 L1418.0,4407.7 L1421.7,4409.9 L1425.3,4410.6 L1428.9,4410.7 L1432.5,4412.4 L1436.2,4414.4 L1439.8,4415.7 L1443.4,4417.4 L1447.1,4419.8 L1450.7,4422.1 L1454.3,4423.8 L1457.9,4424.6 L1461.6,4425.5 L1465.2,4427.1 L1468.8,4428.9 L1472.4,4430.6 L1476.1,4432.0 L1479.7,4433.0 L1483.3,4434.0 L1486.9,4435.2 L1490.6,4436.2 L1494.2,4437.2 L1497.8,4438.8 L1501.5,4440.2 L1505.1,4440.9 L1508.7,4441.8 L1512.3,4443.3 L1516.0,4444.7 L1519.6,4445.8 L1523.2,4446.6 L1526.8,4447.4 L1530.5,4448.7 L1534.1,4450.1 L1537.7,4451.0 L1541.4,4451.8 L1545.0,4453.1 L1548.6,4454.6 L1552.2,4455.7 L1555.9,4456.3 L1559.5,4457.0 L1563.1,4458.1 L1566.7,4458.8 L1570.4,4459.6 L1574.0,4460.5 L1577.6,4461.2 L1581.3,4462.1 L1584.9,4463.1 L1588.5,4463.5 L1592.1,4463.7 L1595.8,4464.6 L1599.4,4465.6 L1603.0,4466.0 L1606.6,4466.5 L1610.3,4467.4 L1613.9,4468.1 L1617.5,4468.6 L1621.2,4469.1 L1624.8,4469.5 L1628.4,4470.1 L1632.0,4470.6 L1635.7,4471.0 L1639.3,4471.5 L1642.9,4471.9 L1646.5,4472.5 L1650.2,4472.8 L1653.8,4472.8 L1657.4,4473.0 L1661.1,4473.4 L1664.7,4473.7 L1668.3,4474.0 L1671.9,4474.2 L1675.6,4474.5 L1679.2,4475.1 L1682.8,4475.2 L1686.4,4475.2 L1690.1,4475.5 L1693.7,4475.9 L1697.3,4476.3 L1701.0,4476.6 L1704.6,4476.8 L1708.2,4477.1 L1711.8,4477.3 L1715.5,4477.7 L1719.1,4478.2 L1722.7,4478.2 L1726.3,4478.4 L1730.0,4479.1 L1733.6,4479.5 L1737.2,4479.9 L1740.9,4480.4 L1744.5,4480.6 L1748.1,4481.0 L1751.7,4481.2 L1755.4,4481.3 L1759.0,4481.6 L1762.6,4481.9 L1766.2,4481.9 L1769.9,4482.2 L1773.5,4482.5 L1777.1,4482.6 L1780.8,4482.6 L1784.4,4482.8 L1788.0,4483.0 L1791.6,4483.4 L1795.3,4483.1 L1798.9,4483.2 L1802.5,4483.3 L1806.1,4483.4 L1809.8,4483.5 L1813.4,4483.6 L1817.0,4483.7 L1820.6,4483.8 L1824.3,4483.8 L1827.9,4483.9 L1831.5,4484.0 L1835.2,4484.0 L1838.8,4484.1 L1842.4,4484.1 L1846.0,4484.2 L1849.7,4484.2 L1853.3,4484.3 L1856.9,4484.3 L1860.5,4484.4 L1864.2,4484.4 L1867.8,4484.5 L1871.4,4484.5 L1875.1,4484.6 L1878.7,4484.6 L1882.3,4484.6 L1885.9,4484.6 L1889.6,4484.7 L1893.2,4484.7 L1896.8,4484.7 L1900.4,4484.7 L1904.1,4484.7 L1907.7,4484.7 L1911.3,4484.7 L1915.0,4484.7 L1918.6,4484.7 L1922.2,4484.7 L1925.8,4484.7 L1929.5,4484.7 L1933.1,4484.7 L1936.7,4484.7 L1940.3,4484.7 L1944.0,4484.7 L1947.6,4484.7 L1951.2,4484.6 L1954.9,4484.6 L1958.5,4484.6 L1962.1,4484.6 L1965.7,4484.6 L1969.4,4484.6 L1973.0,4484.6 L1976.6,4484.5 L1980.2,4484.5 L1983.9,4484.5 L1987.5,4484.5 L1991.1,4484.5 L1994.8,4484.5 L1998.4,4484.5 L2002.0,4484.5 L2005.6,4484.5 L2009.3,4484.5" fill="none" stroke="#F14040" stroke-width="15.6" stroke-linejoin="round" stroke-linecap="butt"/>
<path d="M173.9,4487.5 L177.5,4487.7 L181.2,4487.9 L184.8,4487.7 L188.4,4487.4 L192.0,4487.5 L195.7,4487.9 L199.3,4487.9 L202.9,4487.6 L206.6,4487.3 L210.2,4487.2 L213.8,4487.6 L217.4,4487.7 L221.1,4488.0 L224.7,4488.3 L228.3,4488.1 L231.9,4488.0 L235.6,4488.2 L239.2,4488.1 L242.8,4487.9 L246.5,4487.6 L250.1,4487.5 L253.7,4487.6 L257.3,4488.2 L261.0,4488.4 L264.6,4488.1 L268.2,4487.9 L271.8,4488.3 L275.5,4488.8 L279.1,4488.6 L282.7,4488.3 L286.4,4488.4 L290.0,4488.4 L293.6,4488.1 L297.2,4488.2 L300.9,4488.3 L304.5,4488.3 L308.1,4488.4 L311.7,4488.5 L315.4,4488.2 L319.0,4488.1 L322.6,4488.2 L326.3,4488.2 L329.9,4488.4 L333.5,4488.6 L337.1,4488.3 L340.8,4487.8 L344.4,4487.6 L348.0,4487.9 L351.6,4488.1 L355.3,4488.1 L358.9,4488.1 L362.5,4488.1 L366.2,4488.0 L369.8,4487.9 L373.4,4487.8 L377.0,4487.5 L380.7,4487.3 L384.3,4487.3 L387.9,4487.3 L391.5,4487.1 L395.2,4487.2 L398.8,4487.5 L402.4,4487.4 L406.1,4487.2 L409.7,4487.3 L413.3,4487.3 L416.9,4487.2 L420.6,4487.2 L424.2,4487.0 L427.8,4486.8 L431.4,4486.8 L435.1,4487.0 L438.7,4487.3 L442.3,4487.0 L446.0,4486.5 L449.6,4486.4 L453.2,4486.6 L456.8,4486.8 L460.5,4486.5 L464.1,4486.1 L467.7,4485.9 L471.3,4486.0 L475.0,4486.0 L478.6,4485.9 L482.2,4485.9 L485.8,4485.8 L489.5,4485.1 L493.1,4484.8 L496.7,4484.6 L500.4,4484.2 L504.0,4484.2 L507.6,4483.8 L511.2,4483.4 L514.9,4483.2 L518.5,4482.6 L522.1,4481.6 L525.7,4480.6 L529.4,4479.7 L533.0,4479.1 L536.6,4478.7 L540.3,4477.3 L543.9,4475.9 L547.5,4475.3 L551.1,4474.2 L554.8,4472.4 L558.4,4470.6 L562.0,4468.6 L565.6,4466.8 L569.3,4465.1 L572.9,4463.1 L576.5,4460.9 L580.2,4458.8 L583.8,4456.4 L587.4,4453.6 L591.0,4450.7 L594.7,4447.1 L598.3,4443.6 L601.9,4440.3 L605.5,4436.6 L609.2,4434.8 L612.8,4428.2 L616.4,4420.7 L620.1,4414.4 L623.7,4409.5 L627.3,4404.1 L630.9,4397.7 L634.6,4388.3 L638.2,4378.7 L641.8,4371.7 L645.4,4362.5 L649.1,4351.2 L652.7,4340.0 L656.3,4328.3 L660.0,4315.2 L663.6,4301.2 L667.2,4288.6 L670.8,4275.1 L674.5,4260.7 L678.1,4246.9 L681.7,4230.9 L685.3,4215.0 L689.0,4201.0 L692.6,4186.3 L696.2,4172.5 L699.9,4162.2 L703.5,4153.3 L707.1,4141.6 L710.7,4130.3 L714.4,4124.5 L718.0,4121.6 L721.6,4118.2 L725.2,4115.6 L728.9,4115.2 L732.5,4114.5 L736.1,4114.8 L739.8,4115.7 L743.4,4115.2 L747.0,4114.6 L750.6,4113.7 L754.3,4112.8 L757.9,4113.4 L761.5,4113.0 L765.1,4110.7 L768.8,4111.0 L772.4,4113.9 L776.0,4115.9 L779.7,4117.7 L783.3,4119.8 L786.9,4120.4 L790.5,4120.7 L794.2,4121.9 L797.8,4124.0 L801.4,4127.4 L805.0,4128.1 L808.7,4125.5 L812.3,4123.8 L815.9,4123.3 L819.5,4120.9 L823.2,4118.3 L826.8,4116.7 L830.4,4114.2 L834.1,4110.5 L837.7,4107.6 L841.3,4106.6 L844.9,4102.2 L848.6,4093.5 L852.2,4088.3 L855.8,4089.2 L859.4,4091.1 L863.1,4089.3 L866.7,4086.1 L870.3,4083.3 L874.0,4080.8 L877.6,4079.8 L881.2,4079.0 L884.8,4078.8 L888.5,4077.9 L892.1,4076.5 L895.7,4076.4 L899.3,4078.4 L903.0,4077.9 L906.6,4074.6 L910.2,4074.4 L913.9,4076.0 L917.5,4078.0 L921.1,4077.7 L924.7,4075.6 L928.4,4077.1 L932.0,4080.7 L935.6,4081.0 L939.2,4078.2 L942.9,4077.6 L946.5,4081.1 L950.1,4084.4 L953.8,4085.2 L957.4,4085.7 L961.0,4087.4 L964.6,4088.6 L968.3,4087.4 L971.9,4084.7 L975.5,4083.4 L979.1,4084.1 L982.8,4085.5 L986.4,4086.7 L990.0,4089.4 L993.7,4094.2 L997.3,4099.6 L1000.9,4102.7 L1004.5,4103.7 L1008.2,4107.5 L1011.8,4115.8 L1015.4,4121.9 L1019.0,4124.7 L1022.7,4130.1 L1026.3,4134.8 L1029.9,4139.5 L1033.6,4147.0 L1037.2,4149.9 L1040.8,4149.7 L1044.4,4155.0 L1048.1,4162.3 L1051.7,4167.9 L1055.3,4172.6 L1058.9,4175.2 L1062.6,4176.7 L1066.2,4179.6 L1069.8,4184.9 L1073.5,4189.6 L1077.1,4191.9 L1080.7,4194.9 L1084.3,4198.6 L1088.0,4201.3 L1091.6,4205.9 L1095.2,4208.5 L1098.8,4208.3 L1102.5,4210.5 L1106.1,4212.5 L1109.7,4215.3 L1113.4,4221.0 L1117.0,4226.4 L1120.6,4231.5 L1124.2,4233.7 L1127.9,4233.2 L1131.5,4236.8 L1135.1,4242.7 L1138.7,4246.8 L1142.4,4248.5 L1146.0,4249.8 L1149.6,4253.3 L1153.2,4256.2 L1156.9,4256.7 L1160.5,4258.6 L1164.1,4263.2 L1167.8,4270.1 L1171.4,4276.4 L1175.0,4279.4 L1178.6,4283.3 L1182.3,4287.4 L1185.9,4290.6 L1189.5,4293.2 L1193.1,4296.0 L1196.8,4299.1 L1200.4,4302.1 L1204.0,4305.3 L1207.7,4309.2 L1211.3,4312.5 L1214.9,4314.7 L1218.5,4317.4 L1222.2,4320.8 L1225.8,4324.4 L1229.4,4327.7 L1233.0,4330.6 L1236.7,4332.9 L1240.3,4335.4 L1243.9,4338.7 L1247.6,4342.1 L1251.2,4345.3 L1254.8,4348.8 L1258.4,4351.7 L1262.1,4354.5 L1265.7,4358.1 L1269.3,4362.1 L1272.9,4365.2 L1276.6,4367.0 L1280.2,4369.3 L1283.8,4373.0 L1287.5,4376.0 L1291.1,4377.9 L1294.7,4380.3 L1298.3,4382.8 L1302.0,4385.1 L1305.6,4386.9 L1309.2,4388.8 L1312.8,4391.1 L1316.5,4392.9 L1320.1,4394.5 L1323.7,4396.5 L1327.4,4399.1 L1331.0,4402.1 L1334.6,4403.7 L1338.2,4404.1 L1341.9,4405.4 L1345.5,4407.2 L1349.1,4408.4 L1352.7,4410.0 L1356.4,4412.3 L1360.0,4414.1 L1363.6,4415.5 L1367.3,4416.9 L1370.9,4417.7 L1374.5,4418.5 L1378.1,4419.6 L1381.8,4420.7 L1385.4,4422.3 L1389.0,4424.6 L1392.6,4425.8 L1396.3,4426.4 L1399.9,4427.1 L1403.5,4428.2 L1407.2,4429.7 L1410.8,4430.8 L1414.4,4431.7 L1418.0,4432.4 L1421.7,4433.0 L1425.3,4434.8 L1428.9,4436.7 L1432.5,4436.9 L1436.2,4437.4 L1439.8,4438.6 L1443.4,4439.3 L1447.1,4440.0 L1450.7,4441.0 L1454.3,4442.3 L1457.9,4443.2 L1461.6,4443.3 L1465.2,4444.1 L1468.8,4446.4 L1472.4,4447.5 L1476.1,4448.5 L1479.7,4449.5 L1483.3,4450.4 L1486.9,4451.2 L1490.6,4452.0 L1494.2,4453.0 L1497.8,4453.6 L1501.5,4454.1 L1505.1,4454.9 L1508.7,4456.0 L1512.3,4457.2 L1516.0,4457.8 L1519.6,4458.2 L1523.2,4459.2 L1526.8,4460.2 L1530.5,4460.7 L1534.1,4461.1 L1537.7,4461.8 L1541.4,4462.3 L1545.0,4462.6 L1548.6,4463.4 L1552.2,4464.5 L1555.9,4465.5 L1559.5,4466.0 L1563.1,4466.1 L1566.7,4466.3 L1570.4,4466.8 L1574.0,4467.4 L1577.6,4468.0 L1581.3,4468.7 L1584.9,4469.2 L1588.5,4469.6 L1592.1,4470.0 L1595.8,4470.5 L1599.4,4470.9 L1603.0,4471.0 L1606.6,4471.3 L1610.3,4472.1 L1613.9,4472.9 L1617.5,4472.7 L1621.2,4472.7 L1624.8,4473.1 L1628.4,4473.4 L1632.0,4473.8 L1635.7,4474.1 L1639.3,4474.4 L1642.9,4474.7 L1646.5,4475.1 L1650.2,4475.5 L1653.8,4476.0 L1657.4,4476.3 L1661.1,4476.4 L1664.7,4476.4 L1668.3,4476.8 L1671.9,4477.0 L1675.6,4477.0 L1679.2,4477.2 L1682.8,4477.4 L1686.4,4477.5 L1690.1,4477.8 L1693.7,4478.0 L1697.3,4478.3 L1701.0,4478.9 L1704.6,4479.2 L1708.2,4478.7 L1711.8,4478.7 L1715.5,4479.4 L1719.1,4479.7 L1722.7,4479.7 L1726.3,4480.0 L1730.0,4480.6 L1733.6,4480.8 L1737.2,4480.9 L1740.9,4481.4 L1744.5,4481.7 L1748.1,4481.5 L1751.7,4481.9 L1755.4,4482.5 L1759.0,4482.7 L1762.6,4482.8 L1766.2,4482.8 L1769.9,4483.0 L1773.5,4483.5 L1777.1,4483.8 L1780.8,4483.8 L1784.4,4483.8 L1788.0,4484.0 L1791.6,4484.4 L1795.3,4484.5 L1798.9,4484.4 L1802.5,4484.5 L1806.1,4484.4 L1809.8,4484.1 L1813.4,4484.6 L1817.0,4485.2 L1820.6,4485.1 L1824.3,4485.1 L1827.9,4485.3 L1831.5,4485.1 L1835.2,4484.6 L1838.8,4484.6 L1842.4,4484.6 L1846.0,4484.8 L1849.7,4485.1 L1853.3,4485.1 L1856.9,4485.3 L1860.5,4485.6 L1864.2,4485.5 L1867.8,4485.0 L1871.4,4484.6 L1875.1,4484.8 L1878.7,4485.2 L1882.3,4485.3 L1885.9,4485.6 L1889.6,4486.0 L1893.2,4485.9 L1896.8,4485.4 L1900.4,4485.4 L1904.1,4485.2 L1907.7,4485.0 L1911.3,4485.5 L1915.0,4485.7 L1918.6,4485.3 L1922.2,4485.4 L1925.8,4485.5 L1929.5,4485.2 L1933.1,4484.9 L1936.7,4485.1 L1940.3,4485.8 L1944.0,4485.8 L1947.6,4485.5 L1951.2,4485.3 L1954.9,4485.0 L1958.5,4485.0 L1962.1,4484.6 L1965.7,4484.1 L1969.4,4484.4 L1973.0,4485.0 L1976.6,4485.2 L1980.2,4485.1 L1983.9,4484.9 L1987.5,4484.6 L1991.1,4484.3 L1994.8,4484.8 L1998.4,4485.4 L2002.0,4485.0 L2005.6,4484.8 L2009.3,4485.3" fill="none" stroke="#1A6FDF" stroke-width="15.6" stroke-linejoin="round" stroke-linecap="butt"/>
</g></g>
<text transform="translate(133.69,4693.55) scale(0.9784,1)" font-family='"Liberation Sans", sans-serif' font-size="45.86" stroke="#000" stroke-width="0.5" fill="#000">300</text>
<text transform="translate(300.53,4693.55) scale(0.9784,1)" font-family='"Liberation Sans", sans-serif' font-size="45.86" stroke="#000" stroke-width="0.5" fill="#000">350</text>
<text transform="translate(468.06,4693.55) scale(0.9691,1)" font-family='"Liberation Sans", sans-serif' font-size="45.86" stroke="#000" stroke-width="0.5" fill="#000">400</text>
<text transform="translate(634.9,4693.55) scale(0.9691,1)" font-family='"Liberation Sans", sans-serif' font-size="45.86" stroke="#000" stroke-width="0.5" fill="#000">450</text>
<text transform="translate(800.96,4693.55) scale(0.9796,1)" font-family='"Liberation Sans", sans-serif' font-size="45.86" stroke="#000" stroke-width="0.5" fill="#000">500</text>
<text transform="translate(967.8,4693.55) scale(0.9796,1)" font-family='"Liberation Sans", sans-serif' font-size="45.86" stroke="#000" stroke-width="0.5" fill="#000">550</text>
<text transform="translate(1134.14,4693.55) scale(0.9862,1)" font-family='"Liberation Sans", sans-serif' font-size="45.86" stroke="#000" stroke-width="0.5" fill="#000">600</text>
<text transform="translate(1300.98,4693.55) scale(0.9862,1)" font-family='"Liberation Sans", sans-serif' font-size="45.86" stroke="#000" stroke-width="0.5" fill="#000">650</text>
<text transform="translate(1467.8,4693.55) scale(0.9865,1)" font-family='"Liberation Sans", sans-serif' font-size="45.86" stroke="#000" stroke-width="0.5" fill="#000">700</text>
<text transform="translate(1634.64,4693.55) scale(0.9865,1)" font-family='"Liberation Sans", sans-serif' font-size="45.86" stroke="#000" stroke-width="0.5" fill="#000">750</text>
<text transform="translate(1801.84,4693.55) scale(0.9817,1)" font-family='"Liberation Sans", sans-serif' font-size="45.86" stroke="#000" stroke-width="0.5" fill="#000">800</text>
<text transform="translate(226.05,3503.32) scale(1.0008,1)" font-family='"Liberation Sans", sans-serif' font-size="73.17" font-weight="bold" fill="#000">(c)</text>
<text transform="translate(80.2,4290.76) rotate(-90) scale(0.9660,1)" font-family='"Liberation Sans", sans-serif' font-size="75.15" font-weight="bold" fill="#000">PL intensity (a.u.)</text>
<text transform="translate(794.96,4783.5) scale(0.9146,1)" font-family='"Liberation Sans", sans-serif' font-size="60.76" stroke="#000" stroke-width="0.5" fill="#000">Wavelength (nm)</text>
<rect x="1316" y="3494.7" width="125.2" height="14" fill="#515151"/>
<rect x="1316" y="3579.7" width="125.2" height="14" fill="#F14040"/>
<rect x="1316" y="3665" width="125.2" height="14" fill="#1A6FDF"/>
<text transform="translate(1455.34,3523.5) scale(1.0390,1)" font-family='"Liberation Sans", sans-serif' font-size="53.05" font-weight="bold" fill="#000"><tspan font-size="53.05" dy="0">g-C</tspan><tspan font-size="37.14" dy="13.26">3</tspan><tspan font-size="53.05" dy="-13.26">N</tspan><tspan font-size="37.14" dy="13.26">4</tspan></text>
<text transform="translate(1456.1,3608) scale(1.0258,1)" font-family='"Liberation Sans", sans-serif' font-size="53.93" font-weight="bold" fill="#000"><tspan font-size="53.93" dy="0">HC</tspan><tspan font-size="37.75" dy="13.48">3</tspan><tspan font-size="53.93" dy="-13.48">N</tspan><tspan font-size="37.75" dy="13.48">4</tspan></text>
<text transform="translate(1455.69,3692.4) scale(1.0399,1)" font-family='"Liberation Sans", sans-serif' font-size="53.05" font-weight="bold" fill="#000"><tspan font-size="53.05" dy="0">2% Co/HC</tspan><tspan font-size="37.14" dy="13.26">3</tspan><tspan font-size="53.05" dy="-13.26">N</tspan><tspan font-size="37.14" dy="13.26">4</tspan></text>
<line x1="549" y1="3574.9" x2="549" y2="3973" stroke="#000" stroke-width="6.1" stroke-dasharray="7.4 4.4"/>
<polygon points="538.9,3972 559.1,3972 549,4013.9" fill="#000"/>
<line x1="1296" y1="3477.6" x2="1296" y2="3877.5" stroke="#000" stroke-width="6.1" stroke-dasharray="7.4 4.4"/>
<polygon points="1285.9,3876.5 1306.1,3876.5 1296,3917.1" fill="#000"/>
</g>
</svg></body></html>
